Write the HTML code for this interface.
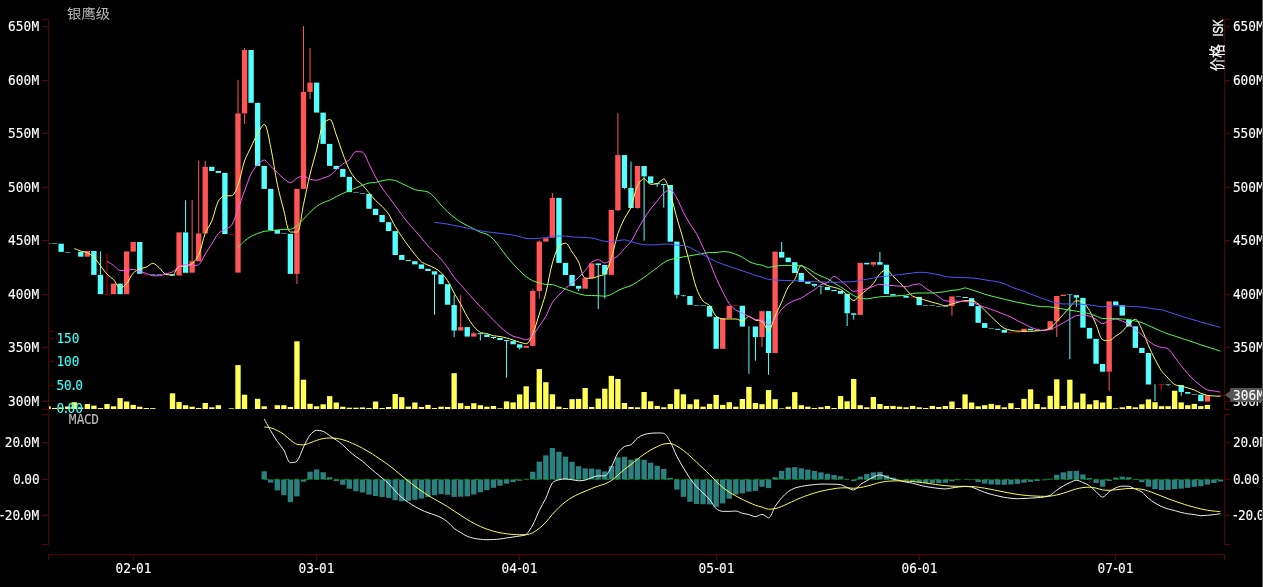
<!DOCTYPE html>
<html lang="zh-CN">
<head>
<meta charset="utf-8">
<title>银鹰级 价格 ISK</title>
<style>
html,body{margin:0;padding:0;background:#000;overflow:hidden}
body{width:1263px;height:587px}
svg{display:block;position:absolute;left:0;top:0}
text{white-space:pre}
</style>
</head>
<body>
<svg width="1263" height="587" viewBox="0 0 1263 587">
<g shape-rendering="crispEdges">
<line x1="48.5" y1="19" x2="48.5" y2="410" stroke="#560000" stroke-width="1"/>
<line x1="49" y1="19.5" x2="42" y2="19.5" stroke="#560000" stroke-width="1"/>
<line x1="49" y1="26.5" x2="42" y2="26.5" stroke="#560000" stroke-width="1"/>
<line x1="49" y1="80.5" x2="42" y2="80.5" stroke="#560000" stroke-width="1"/>
<line x1="49" y1="133.5" x2="42" y2="133.5" stroke="#560000" stroke-width="1"/>
<line x1="49" y1="187.5" x2="42" y2="187.5" stroke="#560000" stroke-width="1"/>
<line x1="49" y1="240.5" x2="42" y2="240.5" stroke="#560000" stroke-width="1"/>
<line x1="49" y1="294.5" x2="42" y2="294.5" stroke="#560000" stroke-width="1"/>
<line x1="49" y1="347.5" x2="42" y2="347.5" stroke="#560000" stroke-width="1"/>
<line x1="49" y1="401.5" x2="42" y2="401.5" stroke="#560000" stroke-width="1"/>
<line x1="49" y1="409.5" x2="42" y2="409.5" stroke="#560000" stroke-width="1"/>
<line x1="48.5" y1="414" x2="48.5" y2="545" stroke="#560000" stroke-width="1"/>
<line x1="49" y1="414.5" x2="42" y2="414.5" stroke="#560000" stroke-width="1"/>
<line x1="49" y1="442.5" x2="42" y2="442.5" stroke="#560000" stroke-width="1"/>
<line x1="49" y1="479.5" x2="42" y2="479.5" stroke="#560000" stroke-width="1"/>
<line x1="49" y1="515.5" x2="42" y2="515.5" stroke="#560000" stroke-width="1"/>
<line x1="49" y1="544.5" x2="42" y2="544.5" stroke="#560000" stroke-width="1"/>
<line x1="1224.5" y1="19" x2="1224.5" y2="410" stroke="#560000" stroke-width="1"/>
<line x1="1224" y1="19.5" x2="1230" y2="19.5" stroke="#560000" stroke-width="1"/>
<line x1="1224" y1="26.5" x2="1230" y2="26.5" stroke="#560000" stroke-width="1"/>
<line x1="1224" y1="80.5" x2="1230" y2="80.5" stroke="#560000" stroke-width="1"/>
<line x1="1224" y1="133.5" x2="1230" y2="133.5" stroke="#560000" stroke-width="1"/>
<line x1="1224" y1="187.5" x2="1230" y2="187.5" stroke="#560000" stroke-width="1"/>
<line x1="1224" y1="240.5" x2="1230" y2="240.5" stroke="#560000" stroke-width="1"/>
<line x1="1224" y1="294.5" x2="1230" y2="294.5" stroke="#560000" stroke-width="1"/>
<line x1="1224" y1="347.5" x2="1230" y2="347.5" stroke="#560000" stroke-width="1"/>
<line x1="1224" y1="401.5" x2="1230" y2="401.5" stroke="#560000" stroke-width="1"/>
<line x1="1224" y1="409.5" x2="1230" y2="409.5" stroke="#560000" stroke-width="1"/>
<line x1="1224.5" y1="414" x2="1224.5" y2="545" stroke="#560000" stroke-width="1"/>
<line x1="1224" y1="414.5" x2="1230" y2="414.5" stroke="#560000" stroke-width="1"/>
<line x1="1224" y1="442.5" x2="1230" y2="442.5" stroke="#560000" stroke-width="1"/>
<line x1="1224" y1="479.5" x2="1230" y2="479.5" stroke="#560000" stroke-width="1"/>
<line x1="1224" y1="515.5" x2="1230" y2="515.5" stroke="#560000" stroke-width="1"/>
<line x1="1224" y1="544.5" x2="1230" y2="544.5" stroke="#560000" stroke-width="1"/>
<line x1="48" y1="331.5" x2="54" y2="331.5" stroke="#560000" stroke-width="1"/>
<line x1="48" y1="338.5" x2="54" y2="338.5" stroke="#560000" stroke-width="1"/>
<line x1="48" y1="361.5" x2="54" y2="361.5" stroke="#560000" stroke-width="1"/>
<line x1="48" y1="385.5" x2="54" y2="385.5" stroke="#560000" stroke-width="1"/>
<line x1="48" y1="409.5" x2="54" y2="409.5" stroke="#560000" stroke-width="1"/>
<line x1="48" y1="554.5" x2="1225" y2="554.5" stroke="#560000" stroke-width="1"/>
<line x1="48.5" y1="554" x2="48.5" y2="560" stroke="#560000" stroke-width="1"/>
<line x1="133.5" y1="554" x2="133.5" y2="560" stroke="#560000" stroke-width="1"/>
<line x1="316.5" y1="554" x2="316.5" y2="560" stroke="#560000" stroke-width="1"/>
<line x1="519.5" y1="554" x2="519.5" y2="560" stroke="#560000" stroke-width="1"/>
<line x1="716.5" y1="554" x2="716.5" y2="560" stroke="#560000" stroke-width="1"/>
<line x1="919.5" y1="554" x2="919.5" y2="560" stroke="#560000" stroke-width="1"/>
<line x1="1115.5" y1="554" x2="1115.5" y2="560" stroke="#560000" stroke-width="1"/>
<line x1="1224.5" y1="554" x2="1224.5" y2="560" stroke="#560000" stroke-width="1"/>
</g>
<g fill="#ffff55">
<rect x="49" y="406.3" width="1.72" height="2.7"/>
<rect x="51.92" y="408" width="5.35" height="1"/>
<rect x="58.48" y="407.6" width="5.35" height="1.4"/>
<rect x="65.02" y="406.5" width="5.35" height="2.5"/>
<rect x="71.58" y="402.2" width="5.35" height="6.8"/>
<rect x="78.12" y="407.5" width="5.35" height="1.5"/>
<rect x="84.67" y="404" width="5.35" height="5"/>
<rect x="91.23" y="405.6" width="5.35" height="3.4"/>
<rect x="97.77" y="408" width="5.35" height="1"/>
<rect x="104.33" y="404" width="5.35" height="5"/>
<rect x="110.88" y="406.3" width="5.35" height="2.7"/>
<rect x="117.42" y="398.1" width="5.35" height="10.9"/>
<rect x="123.97" y="401.5" width="5.35" height="7.5"/>
<rect x="130.52" y="404.9" width="5.35" height="4.1"/>
<rect x="137.07" y="406.7" width="5.35" height="2.3"/>
<rect x="143.62" y="408" width="5.35" height="1"/>
<rect x="150.17" y="408.1" width="5.35" height="0.9"/>
<rect x="169.82" y="393.3" width="5.35" height="15.7"/>
<rect x="176.38" y="401.9" width="5.35" height="7.1"/>
<rect x="182.92" y="405.2" width="5.35" height="3.8"/>
<rect x="189.47" y="406.7" width="5.35" height="2.3"/>
<rect x="196.02" y="408" width="5.35" height="1"/>
<rect x="202.57" y="403" width="5.35" height="6"/>
<rect x="209.12" y="407.3" width="5.35" height="1.7"/>
<rect x="215.67" y="405.2" width="5.35" height="3.8"/>
<rect x="228.77" y="408.3" width="5.35" height="0.7"/>
<rect x="235.32" y="365.1" width="5.35" height="43.9"/>
<rect x="241.88" y="394.7" width="5.35" height="14.3"/>
<rect x="254.97" y="398.8" width="5.35" height="10.2"/>
<rect x="261.52" y="406.3" width="5.35" height="2.7"/>
<rect x="274.62" y="405.2" width="5.35" height="3.8"/>
<rect x="281.17" y="405.2" width="5.35" height="3.8"/>
<rect x="287.72" y="407" width="5.35" height="2"/>
<rect x="294.27" y="341.3" width="5.35" height="67.7"/>
<rect x="300.82" y="379.7" width="5.35" height="29.3"/>
<rect x="307.38" y="403.8" width="5.35" height="5.2"/>
<rect x="313.93" y="406.3" width="5.35" height="2.7"/>
<rect x="320.47" y="404.3" width="5.35" height="4.7"/>
<rect x="327.02" y="396.1" width="5.35" height="12.9"/>
<rect x="333.57" y="402.5" width="5.35" height="6.5"/>
<rect x="340.12" y="406.7" width="5.35" height="2.3"/>
<rect x="346.68" y="407.7" width="5.35" height="1.3"/>
<rect x="353.22" y="407.7" width="5.35" height="1.3"/>
<rect x="359.77" y="407.4" width="5.35" height="1.6"/>
<rect x="366.32" y="408" width="5.35" height="1"/>
<rect x="372.88" y="401.5" width="5.35" height="7.5"/>
<rect x="379.43" y="408" width="5.35" height="1"/>
<rect x="385.97" y="407" width="5.35" height="2"/>
<rect x="392.52" y="394" width="5.35" height="15"/>
<rect x="399.07" y="397.2" width="5.35" height="11.8"/>
<rect x="405.62" y="406.6" width="5.35" height="2.4"/>
<rect x="412.18" y="402.5" width="5.35" height="6.5"/>
<rect x="418.72" y="407" width="5.35" height="2"/>
<rect x="425.27" y="404.9" width="5.35" height="4.1"/>
<rect x="431.82" y="408" width="5.35" height="1"/>
<rect x="438.38" y="406.7" width="5.35" height="2.3"/>
<rect x="444.93" y="407" width="5.35" height="2"/>
<rect x="451.47" y="373.2" width="5.35" height="35.8"/>
<rect x="458.02" y="403.2" width="5.35" height="5.8"/>
<rect x="464.57" y="405.9" width="5.35" height="3.1"/>
<rect x="471.12" y="403.2" width="5.35" height="5.8"/>
<rect x="477.68" y="405.2" width="5.35" height="3.8"/>
<rect x="484.22" y="406.7" width="5.35" height="2.3"/>
<rect x="490.77" y="406" width="5.35" height="3"/>
<rect x="497.32" y="408.3" width="5.35" height="0.7"/>
<rect x="503.88" y="401.4" width="5.35" height="7.6"/>
<rect x="510.43" y="402.4" width="5.35" height="6.6"/>
<rect x="516.98" y="394.4" width="5.35" height="14.6"/>
<rect x="523.52" y="386.3" width="5.35" height="22.7"/>
<rect x="530.08" y="402.2" width="5.35" height="6.8"/>
<rect x="536.62" y="369.1" width="5.35" height="39.9"/>
<rect x="543.18" y="382.2" width="5.35" height="26.8"/>
<rect x="549.73" y="394.3" width="5.35" height="14.7"/>
<rect x="556.27" y="406.7" width="5.35" height="2.3"/>
<rect x="562.82" y="408" width="5.35" height="1"/>
<rect x="569.38" y="399.2" width="5.35" height="9.8"/>
<rect x="575.92" y="398.9" width="5.35" height="10.1"/>
<rect x="582.48" y="388" width="5.35" height="21"/>
<rect x="589.02" y="407" width="5.35" height="2"/>
<rect x="595.57" y="398.6" width="5.35" height="10.4"/>
<rect x="602.12" y="388.7" width="5.35" height="20.3"/>
<rect x="608.67" y="375.9" width="5.35" height="33.1"/>
<rect x="615.23" y="379" width="5.35" height="30"/>
<rect x="621.77" y="403" width="5.35" height="6"/>
<rect x="628.32" y="407" width="5.35" height="2"/>
<rect x="634.88" y="407.3" width="5.35" height="1.7"/>
<rect x="641.42" y="392" width="5.35" height="17"/>
<rect x="647.98" y="401.3" width="5.35" height="7.7"/>
<rect x="654.52" y="405.9" width="5.35" height="3.1"/>
<rect x="661.07" y="407.3" width="5.35" height="1.7"/>
<rect x="667.62" y="404" width="5.35" height="5"/>
<rect x="674.17" y="389.3" width="5.35" height="19.7"/>
<rect x="680.73" y="394.3" width="5.35" height="14.7"/>
<rect x="687.27" y="404.2" width="5.35" height="4.8"/>
<rect x="693.82" y="399.4" width="5.35" height="9.6"/>
<rect x="700.38" y="406.7" width="5.35" height="2.3"/>
<rect x="706.92" y="403.9" width="5.35" height="5.1"/>
<rect x="713.48" y="395" width="5.35" height="14"/>
<rect x="720.02" y="404.9" width="5.35" height="4.1"/>
<rect x="726.57" y="402.2" width="5.35" height="6.8"/>
<rect x="733.12" y="406.7" width="5.35" height="2.3"/>
<rect x="739.67" y="399" width="5.35" height="10"/>
<rect x="746.23" y="386.9" width="5.35" height="22.1"/>
<rect x="752.77" y="403" width="5.35" height="6"/>
<rect x="759.32" y="404.2" width="5.35" height="4.8"/>
<rect x="765.88" y="390.1" width="5.35" height="18.9"/>
<rect x="772.42" y="399.2" width="5.35" height="9.8"/>
<rect x="778.98" y="408.4" width="5.35" height="0.6"/>
<rect x="785.52" y="406.7" width="5.35" height="2.3"/>
<rect x="792.07" y="392.1" width="5.35" height="16.9"/>
<rect x="798.62" y="405.2" width="5.35" height="3.8"/>
<rect x="805.17" y="406.7" width="5.35" height="2.3"/>
<rect x="811.73" y="408" width="5.35" height="1"/>
<rect x="818.27" y="407.2" width="5.35" height="1.8"/>
<rect x="824.82" y="406" width="5.35" height="3"/>
<rect x="831.38" y="408" width="5.35" height="1"/>
<rect x="837.92" y="396.1" width="5.35" height="12.9"/>
<rect x="844.48" y="401.3" width="5.35" height="7.7"/>
<rect x="851.02" y="379" width="5.35" height="30"/>
<rect x="857.57" y="405.2" width="5.35" height="3.8"/>
<rect x="864.12" y="407.3" width="5.35" height="1.7"/>
<rect x="870.67" y="397" width="5.35" height="12"/>
<rect x="877.23" y="404" width="5.35" height="5"/>
<rect x="883.77" y="406" width="5.35" height="3"/>
<rect x="890.32" y="405.9" width="5.35" height="3.1"/>
<rect x="896.88" y="406.7" width="5.35" height="2.3"/>
<rect x="903.42" y="407.3" width="5.35" height="1.7"/>
<rect x="909.98" y="405.9" width="5.35" height="3.1"/>
<rect x="916.52" y="407.3" width="5.35" height="1.7"/>
<rect x="923.07" y="408" width="5.35" height="1"/>
<rect x="929.62" y="405.9" width="5.35" height="3.1"/>
<rect x="936.17" y="407" width="5.35" height="2"/>
<rect x="942.73" y="406" width="5.35" height="3"/>
<rect x="949.27" y="401.5" width="5.35" height="7.5"/>
<rect x="955.82" y="408" width="5.35" height="1"/>
<rect x="962.38" y="394.4" width="5.35" height="14.6"/>
<rect x="968.92" y="402.5" width="5.35" height="6.5"/>
<rect x="975.48" y="406.3" width="5.35" height="2.7"/>
<rect x="982.02" y="405.2" width="5.35" height="3.8"/>
<rect x="988.57" y="403.9" width="5.35" height="5.1"/>
<rect x="995.12" y="405.2" width="5.35" height="3.8"/>
<rect x="1001.67" y="407.3" width="5.35" height="1.7"/>
<rect x="1008.23" y="403.2" width="5.35" height="5.8"/>
<rect x="1014.77" y="408" width="5.35" height="1"/>
<rect x="1021.32" y="398.8" width="5.35" height="10.2"/>
<rect x="1027.88" y="389.3" width="5.35" height="19.7"/>
<rect x="1034.42" y="404" width="5.35" height="5"/>
<rect x="1040.98" y="407.3" width="5.35" height="1.7"/>
<rect x="1047.53" y="395.8" width="5.35" height="13.2"/>
<rect x="1054.08" y="379.3" width="5.35" height="29.7"/>
<rect x="1060.62" y="405.9" width="5.35" height="3.1"/>
<rect x="1067.17" y="379.7" width="5.35" height="29.3"/>
<rect x="1073.72" y="402.5" width="5.35" height="6.5"/>
<rect x="1080.27" y="393.6" width="5.35" height="15.4"/>
<rect x="1086.83" y="404.3" width="5.35" height="4.7"/>
<rect x="1093.38" y="400.2" width="5.35" height="8.8"/>
<rect x="1099.92" y="402.5" width="5.35" height="6.5"/>
<rect x="1106.47" y="396" width="5.35" height="13"/>
<rect x="1113.02" y="408.3" width="5.35" height="0.7"/>
<rect x="1119.58" y="407.3" width="5.35" height="1.7"/>
<rect x="1126.12" y="406" width="5.35" height="3"/>
<rect x="1132.67" y="407.3" width="5.35" height="1.7"/>
<rect x="1139.22" y="404.3" width="5.35" height="4.7"/>
<rect x="1145.77" y="399.4" width="5.35" height="9.6"/>
<rect x="1152.33" y="402.2" width="5.35" height="6.8"/>
<rect x="1158.88" y="406.2" width="5.35" height="2.8"/>
<rect x="1165.42" y="406.2" width="5.35" height="2.8"/>
<rect x="1171.97" y="390.7" width="5.35" height="18.3"/>
<rect x="1178.52" y="402.4" width="5.35" height="6.6"/>
<rect x="1185.08" y="405.2" width="5.35" height="3.8"/>
<rect x="1191.62" y="403.9" width="5.35" height="5.1"/>
<rect x="1198.17" y="406.1" width="5.35" height="2.9"/>
<rect x="1204.72" y="404.9" width="5.35" height="4.1"/>
</g>
<g id="candles">
<rect x="49" y="243" width="1.72" height="1" fill="#2a8a8a"/>
<rect x="51.92" y="243" width="5.35" height="1" fill="#2a8a8a"/>
<rect x="58.48" y="243.7" width="5.35" height="8.2" fill="#55ffff"/>
<rect x="65.02" y="252" width="5.35" height="1" fill="#2a8a8a"/>
<rect x="78.12" y="251.8" width="5.35" height="4.9" fill="#55ffff"/>
<rect x="84.67" y="251" width="5.35" height="5.7" fill="#ff5555"/>
<rect x="91.23" y="251" width="5.35" height="23.9" fill="#55ffff"/>
<rect x="97.77" y="274.9" width="5.35" height="19.3" fill="#55ffff"/>
<rect x="99.95" y="251.4" width="1" height="23.5" fill="#55ffff"/>
<rect x="104.33" y="294" width="5.35" height="1" fill="#8a0000"/>
<rect x="106.5" y="253.5" width="1" height="40.7" fill="#bb0000"/>
<rect x="110.88" y="283.6" width="5.35" height="10.6" fill="#ff5555"/>
<rect x="117.42" y="283.6" width="5.35" height="10.6" fill="#55ffff"/>
<rect x="123.97" y="251.4" width="5.35" height="42.8" fill="#ff5555"/>
<rect x="130.52" y="242" width="5.35" height="9.6" fill="#ff5555"/>
<rect x="137.07" y="242" width="5.35" height="31.8" fill="#55ffff"/>
<rect x="143.62" y="274" width="5.35" height="1" fill="#8a0000"/>
<rect x="150.17" y="274" width="5.35" height="1" fill="#2a8a8a"/>
<rect x="156.72" y="274" width="5.35" height="1" fill="#2a8a8a"/>
<rect x="163.27" y="274" width="5.35" height="1" fill="#2a8a8a"/>
<rect x="169.82" y="274.3" width="5.35" height="1.4" fill="#55ffff"/>
<rect x="176.38" y="232.4" width="5.35" height="43.1" fill="#ff5555"/>
<rect x="182.92" y="232.4" width="5.35" height="40.4" fill="#55ffff"/>
<rect x="185.1" y="200.2" width="1" height="32.2" fill="#55ffff"/>
<rect x="189.47" y="261.2" width="5.35" height="11.5" fill="#ff5555"/>
<rect x="191.65" y="199.9" width="1" height="61.3" fill="#ff5555"/>
<rect x="196.02" y="233.4" width="5.35" height="27.8" fill="#ff5555"/>
<rect x="198.2" y="160.75" width="1" height="72.65" fill="#ff5555"/>
<rect x="202.57" y="166.8" width="5.35" height="66.6" fill="#ff5555"/>
<rect x="204.75" y="160.75" width="1" height="6.05" fill="#ff5555"/>
<rect x="209.12" y="166.8" width="5.35" height="4.2" fill="#55ffff"/>
<rect x="215.67" y="171" width="5.35" height="1.9" fill="#55ffff"/>
<rect x="222.22" y="172.9" width="5.35" height="61.15" fill="#55ffff"/>
<rect x="228.77" y="234" width="5.35" height="1" fill="#8a0000"/>
<rect x="235.32" y="113.4" width="5.35" height="159.25" fill="#ff5555"/>
<rect x="237.5" y="79.8" width="1" height="33.6" fill="#ff5555"/>
<rect x="241.88" y="50" width="5.35" height="63.4" fill="#ff5555"/>
<rect x="244.05" y="47.9" width="1" height="2.1" fill="#ff5555"/>
<rect x="244.05" y="113.4" width="1" height="10.5" fill="#ff5555"/>
<rect x="248.42" y="50" width="5.35" height="52.8" fill="#55ffff"/>
<rect x="254.97" y="102.8" width="5.35" height="63.1" fill="#55ffff"/>
<rect x="261.52" y="165.9" width="5.35" height="23" fill="#55ffff"/>
<rect x="268.07" y="188.9" width="5.35" height="41.1" fill="#55ffff"/>
<rect x="274.62" y="230" width="5.35" height="3.7" fill="#55ffff"/>
<rect x="281.17" y="233" width="5.35" height="1" fill="#2a8a8a"/>
<rect x="287.72" y="233.8" width="5.35" height="40.1" fill="#55ffff"/>
<rect x="294.27" y="188.9" width="5.35" height="85" fill="#ff5555"/>
<rect x="296.45" y="273.9" width="1" height="10" fill="#ff5555"/>
<rect x="300.82" y="91.9" width="5.35" height="97" fill="#ff5555"/>
<rect x="303" y="26.1" width="1" height="65.8" fill="#ff5555"/>
<rect x="307.38" y="82.6" width="5.35" height="9.3" fill="#ff5555"/>
<rect x="309.55" y="47.9" width="1" height="34.7" fill="#ff5555"/>
<rect x="309.55" y="91.9" width="1" height="7" fill="#ff5555"/>
<rect x="313.93" y="82.6" width="5.35" height="30" fill="#55ffff"/>
<rect x="320.47" y="112.6" width="5.35" height="31.3" fill="#55ffff"/>
<rect x="327.02" y="143.9" width="5.35" height="22" fill="#55ffff"/>
<rect x="333.57" y="165.9" width="5.35" height="3.2" fill="#55ffff"/>
<rect x="340.12" y="169" width="5.35" height="7.9" fill="#55ffff"/>
<rect x="346.68" y="176.9" width="5.35" height="15.3" fill="#55ffff"/>
<rect x="353.22" y="192" width="5.35" height="1" fill="#2a8a8a"/>
<rect x="359.77" y="193" width="5.35" height="1" fill="#2a8a8a"/>
<rect x="366.32" y="193.9" width="5.35" height="14.9" fill="#55ffff"/>
<rect x="372.88" y="208.8" width="5.35" height="6.2" fill="#55ffff"/>
<rect x="379.43" y="215" width="5.35" height="7.2" fill="#55ffff"/>
<rect x="385.97" y="222.2" width="5.35" height="8.9" fill="#55ffff"/>
<rect x="392.52" y="231.1" width="5.35" height="23.9" fill="#55ffff"/>
<rect x="399.07" y="255" width="5.35" height="4.9" fill="#55ffff"/>
<rect x="405.62" y="260.1" width="5.35" height="1" fill="#55ffff"/>
<rect x="412.18" y="261.2" width="5.35" height="3.2" fill="#55ffff"/>
<rect x="418.72" y="264.4" width="5.35" height="4.4" fill="#55ffff"/>
<rect x="425.27" y="268.8" width="5.35" height="2.2" fill="#55ffff"/>
<rect x="431.82" y="271.3" width="5.35" height="3.3" fill="#55ffff"/>
<rect x="434" y="274.6" width="1" height="40.1" fill="#55ffff"/>
<rect x="438.38" y="274.6" width="5.35" height="9.6" fill="#55ffff"/>
<rect x="444.93" y="284.2" width="5.35" height="20.5" fill="#55ffff"/>
<rect x="451.47" y="305.1" width="5.35" height="25.5" fill="#55ffff"/>
<rect x="453.65" y="295.1" width="1" height="10" fill="#55ffff"/>
<rect x="453.65" y="330.6" width="1" height="6.4" fill="#55ffff"/>
<rect x="458.02" y="327.1" width="5.35" height="3.5" fill="#ff5555"/>
<rect x="460.2" y="295.1" width="1" height="32" fill="#ff5555"/>
<rect x="464.57" y="327.1" width="5.35" height="9.5" fill="#55ffff"/>
<rect x="471.12" y="333.2" width="5.35" height="3.4" fill="#ff5555"/>
<rect x="473.3" y="332.2" width="1" height="1" fill="#ff5555"/>
<rect x="477.68" y="333.2" width="5.35" height="1" fill="#55ffff"/>
<rect x="479.85" y="334.2" width="1" height="6.3" fill="#55ffff"/>
<rect x="484.22" y="334.5" width="5.35" height="2.5" fill="#55ffff"/>
<rect x="490.77" y="337" width="5.35" height="1" fill="#55ffff"/>
<rect x="492.95" y="337.9" width="1" height="1.1" fill="#55ffff"/>
<rect x="497.32" y="337.9" width="5.35" height="2.2" fill="#55ffff"/>
<rect x="503.88" y="340.1" width="5.35" height="1" fill="#55ffff"/>
<rect x="506.05" y="340.9" width="1" height="36.8" fill="#55ffff"/>
<rect x="510.43" y="341.1" width="5.35" height="3.2" fill="#55ffff"/>
<rect x="516.98" y="344.3" width="5.35" height="3.5" fill="#55ffff"/>
<rect x="519.15" y="347.8" width="1" height="1.7" fill="#55ffff"/>
<rect x="523.52" y="345.8" width="5.35" height="2" fill="#ff5555"/>
<rect x="530.08" y="291" width="5.35" height="54.9" fill="#ff5555"/>
<rect x="532.25" y="289.3" width="1" height="1.7" fill="#ff5555"/>
<rect x="536.62" y="241.6" width="5.35" height="49.4" fill="#ff5555"/>
<rect x="538.8" y="240.4" width="1" height="1.2" fill="#ff5555"/>
<rect x="538.8" y="291" width="1" height="7.5" fill="#ff5555"/>
<rect x="543.18" y="238.2" width="5.35" height="3.4" fill="#ff5555"/>
<rect x="549.73" y="197.9" width="5.35" height="39.9" fill="#ff5555"/>
<rect x="551.9" y="193" width="1" height="4.9" fill="#ff5555"/>
<rect x="556.27" y="197.9" width="5.35" height="65" fill="#55ffff"/>
<rect x="562.82" y="262.9" width="5.35" height="12.1" fill="#55ffff"/>
<rect x="569.38" y="275" width="5.35" height="10.9" fill="#55ffff"/>
<rect x="575.92" y="285.9" width="5.35" height="2.8" fill="#55ffff"/>
<rect x="578.1" y="288.7" width="1" height="2.3" fill="#55ffff"/>
<rect x="582.48" y="278.1" width="5.35" height="10.6" fill="#ff5555"/>
<rect x="589.02" y="263.4" width="5.35" height="14.7" fill="#ff5555"/>
<rect x="595.57" y="263.4" width="5.35" height="1.6" fill="#55ffff"/>
<rect x="597.75" y="265" width="1" height="43.9" fill="#55ffff"/>
<rect x="602.12" y="265" width="5.35" height="9.6" fill="#55ffff"/>
<rect x="604.3" y="274.6" width="1" height="24" fill="#55ffff"/>
<rect x="608.67" y="210" width="5.35" height="64.9" fill="#ff5555"/>
<rect x="615.23" y="155.1" width="5.35" height="55.2" fill="#ff5555"/>
<rect x="617.4" y="113.3" width="1" height="41.8" fill="#ff5555"/>
<rect x="617.4" y="210.3" width="1" height="1" fill="#ff5555"/>
<rect x="621.77" y="155.1" width="5.35" height="32.8" fill="#55ffff"/>
<rect x="623.95" y="187.9" width="1" height="1.3" fill="#55ffff"/>
<rect x="628.32" y="187.9" width="5.35" height="20.1" fill="#55ffff"/>
<rect x="630.5" y="161.6" width="1" height="26.3" fill="#55ffff"/>
<rect x="634.88" y="166" width="5.35" height="42" fill="#ff5555"/>
<rect x="637.05" y="208" width="1" height="0.7" fill="#ff5555"/>
<rect x="641.42" y="166" width="5.35" height="10.4" fill="#55ffff"/>
<rect x="643.6" y="176.4" width="1" height="64.3" fill="#55ffff"/>
<rect x="647.98" y="176.4" width="5.35" height="6.8" fill="#55ffff"/>
<rect x="654.52" y="183.2" width="5.35" height="1" fill="#55ffff"/>
<rect x="656.7" y="184" width="1" height="2.9" fill="#55ffff"/>
<rect x="661.07" y="184" width="5.35" height="1" fill="#55ffff"/>
<rect x="663.25" y="185" width="1" height="22.7" fill="#55ffff"/>
<rect x="667.62" y="185" width="5.35" height="56.7" fill="#55ffff"/>
<rect x="674.17" y="241.6" width="5.35" height="53.2" fill="#55ffff"/>
<rect x="676.35" y="294.8" width="1" height="3.7" fill="#55ffff"/>
<rect x="680.73" y="295" width="5.35" height="1" fill="#2a8a8a"/>
<rect x="682.9" y="295.1" width="1" height="1.4" fill="#55ffff"/>
<rect x="687.27" y="296" width="5.35" height="8.9" fill="#55ffff"/>
<rect x="693.82" y="305" width="5.35" height="1" fill="#2a8a8a"/>
<rect x="700.38" y="305" width="5.35" height="1" fill="#2a8a8a"/>
<rect x="706.92" y="305.9" width="5.35" height="10.7" fill="#55ffff"/>
<rect x="713.48" y="316.9" width="5.35" height="31.9" fill="#55ffff"/>
<rect x="720.02" y="318.3" width="5.35" height="30.5" fill="#ff5555"/>
<rect x="726.57" y="305.75" width="5.35" height="12.35" fill="#ff5555"/>
<rect x="733.12" y="305" width="5.35" height="1" fill="#8a0000"/>
<rect x="739.67" y="305.75" width="5.35" height="20.85" fill="#55ffff"/>
<rect x="748.4" y="326.2" width="1" height="47.5" fill="#55ffff"/>
<rect x="752.77" y="326.5" width="5.35" height="10.6" fill="#55ffff"/>
<rect x="754.95" y="337.1" width="1" height="23.6" fill="#55ffff"/>
<rect x="759.32" y="311.1" width="5.35" height="26" fill="#ff5555"/>
<rect x="761.5" y="337.1" width="1" height="9.9" fill="#ff5555"/>
<rect x="765.88" y="311.1" width="5.35" height="41.9" fill="#55ffff"/>
<rect x="768.05" y="353" width="1" height="21.8" fill="#55ffff"/>
<rect x="772.42" y="251.6" width="5.35" height="101.4" fill="#ff5555"/>
<rect x="778.98" y="251.9" width="5.35" height="5.7" fill="#55ffff"/>
<rect x="781.15" y="242" width="1" height="9.9" fill="#55ffff"/>
<rect x="785.52" y="257.6" width="5.35" height="4.6" fill="#55ffff"/>
<rect x="792.07" y="262.2" width="5.35" height="10.8" fill="#55ffff"/>
<rect x="798.62" y="273" width="5.35" height="9" fill="#55ffff"/>
<rect x="805.17" y="282" width="5.35" height="1.8" fill="#55ffff"/>
<rect x="811.73" y="283.9" width="5.35" height="1.8" fill="#55ffff"/>
<rect x="813.9" y="285.7" width="1" height="1.3" fill="#55ffff"/>
<rect x="818.27" y="286" width="5.35" height="1" fill="#2a8a8a"/>
<rect x="820.45" y="286.4" width="1" height="7.8" fill="#55ffff"/>
<rect x="824.82" y="287" width="5.35" height="3" fill="#55ffff"/>
<rect x="831.38" y="289.9" width="5.35" height="1.2" fill="#55ffff"/>
<rect x="837.92" y="290.9" width="5.35" height="2.9" fill="#55ffff"/>
<rect x="844.48" y="293.8" width="5.35" height="19.5" fill="#55ffff"/>
<rect x="846.65" y="313.3" width="1" height="12.75" fill="#55ffff"/>
<rect x="851.02" y="313.3" width="5.35" height="1.5" fill="#55ffff"/>
<rect x="853.2" y="314.8" width="1" height="4.7" fill="#55ffff"/>
<rect x="857.57" y="262.8" width="5.35" height="52.1" fill="#ff5555"/>
<rect x="864.12" y="262.8" width="5.35" height="1.6" fill="#55ffff"/>
<rect x="870.67" y="262.1" width="5.35" height="2.6" fill="#ff5555"/>
<rect x="872.85" y="264.7" width="1" height="1.9" fill="#ff5555"/>
<rect x="877.23" y="262.1" width="5.35" height="2.6" fill="#55ffff"/>
<rect x="879.4" y="251.9" width="1" height="10.2" fill="#55ffff"/>
<rect x="883.77" y="264.7" width="5.35" height="29.4" fill="#55ffff"/>
<rect x="890.32" y="294.1" width="5.35" height="1.5" fill="#55ffff"/>
<rect x="896.88" y="295" width="5.35" height="1" fill="#2a8a8a"/>
<rect x="903.42" y="296" width="5.35" height="1.7" fill="#55ffff"/>
<rect x="909.98" y="297" width="5.35" height="1" fill="#8a0000"/>
<rect x="916.52" y="296.9" width="5.35" height="8.3" fill="#55ffff"/>
<rect x="923.07" y="305" width="5.35" height="1" fill="#2a8a8a"/>
<rect x="929.62" y="305" width="5.35" height="1" fill="#2a8a8a"/>
<rect x="936.17" y="306" width="5.35" height="1" fill="#2a8a8a"/>
<rect x="942.73" y="306" width="5.35" height="1" fill="#2a8a8a"/>
<rect x="949.27" y="296.4" width="5.35" height="9.6" fill="#ff5555"/>
<rect x="951.45" y="306" width="1" height="9.6" fill="#ff5555"/>
<rect x="955.82" y="296" width="5.35" height="1" fill="#2a8a8a"/>
<rect x="962.38" y="297" width="5.35" height="1" fill="#55ffff"/>
<rect x="968.92" y="298.2" width="5.35" height="7.9" fill="#55ffff"/>
<rect x="975.48" y="306.1" width="5.35" height="16.7" fill="#55ffff"/>
<rect x="982.02" y="323.1" width="5.35" height="4.8" fill="#55ffff"/>
<rect x="988.57" y="328" width="5.35" height="1" fill="#2a8a8a"/>
<rect x="995.12" y="328.8" width="5.35" height="1" fill="#55ffff"/>
<rect x="1001.67" y="329.8" width="5.35" height="2.9" fill="#55ffff"/>
<rect x="1008.23" y="332" width="5.35" height="1" fill="#8a0000"/>
<rect x="1014.77" y="332" width="5.35" height="1" fill="#8a0000"/>
<rect x="1021.32" y="328.8" width="5.35" height="3.3" fill="#ff5555"/>
<rect x="1027.88" y="328.8" width="5.35" height="1.4" fill="#55ffff"/>
<rect x="1034.42" y="330" width="5.35" height="1" fill="#2a8a8a"/>
<rect x="1040.98" y="330" width="5.35" height="1" fill="#2a8a8a"/>
<rect x="1047.53" y="321.2" width="5.35" height="8.6" fill="#ff5555"/>
<rect x="1054.08" y="296" width="5.35" height="25.2" fill="#ff5555"/>
<rect x="1056.25" y="321.2" width="1" height="15.7" fill="#ff5555"/>
<rect x="1060.62" y="294.7" width="5.35" height="1.3" fill="#ff5555"/>
<rect x="1067.17" y="294" width="5.35" height="1" fill="#2a8a8a"/>
<rect x="1069.35" y="294.7" width="1" height="64.3" fill="#55ffff"/>
<rect x="1073.72" y="295.1" width="5.35" height="2.5" fill="#55ffff"/>
<rect x="1075.9" y="297.6" width="1" height="9.2" fill="#55ffff"/>
<rect x="1080.27" y="297.9" width="5.35" height="29.8" fill="#55ffff"/>
<rect x="1086.83" y="327.9" width="5.35" height="10.7" fill="#55ffff"/>
<rect x="1093.38" y="338.8" width="5.35" height="24.95" fill="#55ffff"/>
<rect x="1099.92" y="364" width="5.35" height="7.7" fill="#55ffff"/>
<rect x="1106.47" y="301.4" width="5.35" height="70.3" fill="#ff5555"/>
<rect x="1108.65" y="371.7" width="1" height="19" fill="#ff5555"/>
<rect x="1113.02" y="301.4" width="5.35" height="3.7" fill="#55ffff"/>
<rect x="1119.58" y="305.1" width="5.35" height="10.5" fill="#55ffff"/>
<rect x="1126.12" y="319.5" width="5.35" height="7" fill="#55ffff"/>
<rect x="1132.67" y="326.3" width="5.35" height="21.6" fill="#55ffff"/>
<rect x="1139.22" y="347.9" width="5.35" height="5.1" fill="#55ffff"/>
<rect x="1145.77" y="353" width="5.35" height="31.5" fill="#55ffff"/>
<rect x="1154.5" y="384.2" width="1" height="16.8" fill="#55ffff"/>
<rect x="1158.88" y="384" width="5.35" height="1" fill="#bb0000"/>
<rect x="1161.05" y="384.5" width="1" height="6.2" fill="#bb0000"/>
<rect x="1165.42" y="384" width="5.35" height="1" fill="#2a8a8a"/>
<rect x="1167.6" y="384.5" width="1" height="1.5" fill="#55ffff"/>
<rect x="1178.52" y="385.1" width="5.35" height="6.9" fill="#55ffff"/>
<rect x="1180.7" y="392" width="1" height="3.8" fill="#55ffff"/>
<rect x="1185.08" y="392" width="5.35" height="1.7" fill="#55ffff"/>
<rect x="1191.62" y="394" width="5.35" height="1" fill="#2a8a8a"/>
<rect x="1198.17" y="394.6" width="5.35" height="6.7" fill="#55ffff"/>
<rect x="1204.72" y="395.2" width="5.35" height="6.4" fill="#ff5555"/>
<rect x="1217.83" y="395" width="5.35" height="1" fill="#8a0000"/>
</g>
<g id="ma">
<path d="M74.25 248.44C74.25 248.44 78.79 250.46 80.8 251.1C82.72 251.71 85.56 251.78 87.35 252.62C89.49 253.62 92.21 255.55 93.9 257.22C96.14 259.44 98.5 263.07 100.45 265.6C102.43 268.17 104.8 271.85 107 274.2C108.73 276.04 111.83 277.73 113.55 279.58C115.76 281.94 117.85 288.22 120.1 288.22C121.78 288.22 125.1 285.32 126.65 283.52C129.03 280.77 130.78 275.76 133.2 273.08C134.71 271.4 137.66 269.95 139.75 269C141.59 268.16 144.44 267.95 146.3 267.14C148.37 266.23 150.94 263.26 152.85 263.26C154.87 263.26 157.57 266.37 159.4 267.94C161.5 269.74 163.65 273.96 165.95 274.5C167.58 274.88 171 274.88 172.5 274.88C174.93 274.88 176.62 267.15 179.05 266.5C180.55 266.1 183.71 266.5 185.6 266.1C187.64 265.67 190.57 264.71 192.15 263.38C194.5 261.41 197.45 257.96 198.7 255.1C201.38 248.94 202.81 239.66 205.25 233.32C206.74 229.44 210.23 224.89 211.8 221.04C214.16 215.22 215.55 206.49 218.35 201.06C219.48 198.86 222.68 195.63 224.9 195.63C226.61 195.63 230.1 195.81 231.45 195.81C234.03 195.81 236.69 188.62 238 185.13C240.62 178.15 242.12 168.02 244.55 160.93C246.05 156.55 249.11 151.11 251.1 146.91C253.04 142.81 255.39 137.19 257.65 133.28C259.32 130.38 262.96 124.2 264.2 124.2C266.89 124.2 269.2 140.43 270.75 147.52C273.13 158.45 275.02 173.31 277.3 184.26C278.95 192.19 281.71 202.65 283.85 210.46C285.64 216.99 287.35 232.06 290.4 232.06C291.28 232.06 296.21 232.06 296.95 232.06C300.14 232.06 301.62 212.75 303.5 204.44C305.55 195.39 307.88 183.24 310.05 174.22C311.81 166.9 314.7 157.27 316.6 149.98C318.63 142.2 320.12 131.05 323.15 123.98C324.05 121.87 328.43 119.38 329.7 119.38C332.36 119.38 334.46 130.12 336.25 134.82C338.39 140.41 340.69 148.08 342.8 153.68C344.62 158.51 347.01 165.02 349.35 169.6C350.94 172.72 353.63 176.69 355.9 179.34C357.56 181.27 360.66 183.03 362.45 184.86C364.59 187.06 367.01 190.44 369 192.8C370.94 195.11 373.46 198.25 375.55 200.42C377.39 202.34 380.26 204.5 382.1 206.42C384.19 208.61 387 211.6 388.65 214.12C390.93 217.6 393.1 222.81 395.2 226.42C397.03 229.57 399.71 233.62 401.75 236.64C403.64 239.45 406.28 243.12 408.3 245.84C410.21 248.41 412.82 251.8 414.85 254.28C416.75 256.6 419.13 259.96 421.4 261.82C423.06 263.18 425.97 264.09 427.95 265.02C429.9 265.93 432.64 266.89 434.5 267.96C436.57 269.16 439.34 270.94 441.05 272.6C443.27 274.75 445.93 278.05 447.6 280.66C449.86 284.18 452.11 289.35 454.15 293.02C456.04 296.43 458.81 300.83 460.7 304.24C462.74 307.92 465.11 313.02 467.25 316.64C469.04 319.68 471.55 323.75 473.8 326.44C475.48 328.46 478.11 331.11 480.35 332.34C482.04 333.27 484.97 333.11 486.9 333.62C488.9 334.14 491.44 335.34 493.45 335.78C495.37 336.2 498.06 336.15 500 336.48C501.99 336.82 504.6 337.49 506.55 338.02C508.53 338.56 511.14 339.41 513.1 340.04C515.07 340.67 517.66 341.63 519.65 342.2C521.59 342.75 524.77 343.78 526.2 343.78C528.7 343.78 531.33 337.17 532.75 333.96C535.26 328.27 537.39 320.08 539.3 314.1C541.32 307.75 544.2 299.33 545.85 292.88C548.13 283.97 549.91 271.74 552.4 262.9C553.84 257.77 556.16 250.53 558.95 246.32C560.09 244.6 563.94 243.12 565.5 243.12C567.87 243.12 570.17 249.26 572.05 251.98C574.1 254.95 576.99 258.87 578.6 262.08C580.92 266.71 582.3 277.86 585.15 278.12C586.23 278.22 589.78 278.22 591.7 278.22C593.71 278.22 596.3 276.86 598.25 276.22C600.23 275.58 603.66 275.52 604.8 273.96C607.59 270.12 609.77 263.07 611.35 258.22C613.7 250.97 615.51 240.85 617.9 233.62C619.44 228.94 622.27 222.94 624.45 218.52C626.2 214.99 629.56 210.77 631 207.12C633.49 200.83 634.77 191.44 637.55 185.4C638.7 182.9 642.05 178.68 644.1 178.68C645.98 178.68 648.42 184.3 650.65 184.3C652.35 184.3 655.42 184.25 657.2 183.52C659.35 182.64 662.47 178.92 663.75 178.92C666.4 178.92 668.72 189.38 670.3 194.06C672.65 201.03 674.83 210.65 676.85 217.74C678.76 224.47 681.51 233.39 683.4 240.12C685.44 247.35 687.98 257.05 689.95 264.3C691.91 271.52 694.01 281.35 696.5 288.36C697.94 292.39 700.51 297.8 703.05 301.12C704.44 302.94 708.09 303.74 709.6 305.48C712.02 308.27 713.63 313.64 716.15 316.22C717.56 317.67 720.66 318.8 722.7 318.9C724.59 318.99 727.28 318.99 729.25 318.99C731.21 318.99 733.88 318.99 735.8 318.99C737.81 318.99 740.53 320.99 742.35 320.99C744.46 320.99 746.88 316.47 748.9 316.47C750.81 316.47 753.36 319.46 755.45 320.23C757.29 320.91 760.56 320.23 762 321.3C764.49 323.16 766.92 330.8 768.55 330.8C770.85 330.8 773.06 320.27 775.1 315.8C776.99 311.65 779.76 306.23 781.65 302.08C783.69 297.62 785.77 291.3 788.2 287.1C789.7 284.52 793.21 282.04 794.75 279.48C797.14 275.49 798.82 265.28 801.3 265.28C802.75 265.28 805.82 269.85 807.85 271.72C809.75 273.47 812.38 275.73 814.4 277.34C816.31 278.86 818.89 280.88 820.95 282.18C822.82 283.36 825.45 284.76 827.5 285.58C829.38 286.33 832.09 286.83 834.05 287.4C836.02 287.98 838.85 288.4 840.6 289.4C842.78 290.65 845.2 293.25 847.15 294.92C849.13 296.61 851.72 300.6 853.7 300.6C855.65 300.6 858.28 296.78 860.25 295.16C862.21 293.55 864.91 291.51 866.8 289.82C868.84 288 871.63 285.59 873.35 283.48C875.56 280.77 877.53 276.26 879.9 273.76C881.46 272.11 884.66 269.62 886.45 269.62C888.59 269.62 891.01 274.24 893 276.18C894.94 278.08 897.65 280.48 899.55 282.42C901.58 284.49 904.09 287.45 906.1 289.54C908.02 291.54 910.4 294.56 912.65 296.06C914.33 297.18 917.23 297.64 919.2 298.28C921.16 298.91 923.78 299.68 925.75 300.28C927.71 300.88 930.32 301.72 932.3 302.28C934.25 302.83 936.89 303.46 938.85 303.98C940.82 304.5 943.43 305.76 945.4 305.76C947.36 305.76 949.99 304.54 951.95 304C953.92 303.46 956.52 302.67 958.5 302.16C960.45 301.66 963.06 300.66 965.05 300.64C966.99 300.62 969.75 300.62 971.6 300.62C973.68 300.62 976.39 302.65 978.15 303.94C980.32 305.54 982.75 308.34 984.7 310.24C986.68 312.16 989.28 314.76 991.25 316.68C993.21 318.59 995.76 321.19 997.8 323C999.69 324.68 1002.18 327.12 1004.35 328.32C1006.11 329.29 1008.9 329.81 1010.9 330.24C1012.83 330.66 1015.48 331.1 1017.45 331.14C1019.41 331.18 1022.04 331.16 1024 331.18C1025.97 331.2 1028.59 331.3 1030.55 331.3C1032.52 331.3 1035.13 330.95 1037.1 330.8C1039.06 330.65 1041.74 330.72 1043.65 330.32C1045.67 329.9 1048.52 329.21 1050.2 328.08C1052.45 326.57 1054.83 323.53 1056.75 321.52C1058.76 319.43 1061.34 316.55 1063.3 314.42C1065.26 312.29 1067.84 309.41 1069.85 307.32C1071.77 305.33 1074.12 300.84 1076.4 300.84C1078.05 300.84 1081.44 301.01 1082.95 302.14C1085.37 303.96 1087.88 307.89 1089.5 310.66C1091.81 314.59 1094.17 320.29 1096.05 324.47C1098.1 329.05 1099.78 337.94 1102.6 339.87C1103.71 340.63 1107.37 340.63 1109.15 340.63C1111.3 340.63 1113.74 337.47 1115.7 336.11C1117.67 334.74 1120.5 333.12 1122.25 331.51C1124.43 329.51 1126.64 326.08 1128.8 324.06C1130.57 322.41 1133.78 319.3 1135.35 319.3C1137.71 319.3 1140.27 326.35 1141.9 329.62C1144.2 334.21 1146.37 340.79 1148.45 345.5C1150.3 349.67 1152.91 355.17 1155 359.22C1156.84 362.77 1159.29 367.55 1161.55 370.82C1163.22 373.23 1166.07 376.01 1168.1 378.14C1170 380.13 1172.38 383.17 1174.65 384.54C1176.31 385.54 1179.25 385.53 1181.2 386.04C1183.18 386.55 1185.79 387.35 1187.75 387.94C1189.72 388.53 1192.41 389.18 1194.3 389.96C1196.34 390.8 1198.82 392.48 1200.85 393.32C1202.75 394.1 1205.39 394.95 1207.4 395.36C1209.32 395.75 1211.98 395.86 1213.95 396C1215.91 396.14 1220.5 396.3 1220.5 396.3" fill="none" stroke="#ffff55" stroke-width="1"/>
<path d="M107 261.32C107 261.32 111.66 264.03 113.55 265.34C115.59 266.76 117.9 270.42 120.1 270.42C121.83 270.42 124.7 270.42 126.65 270.37C128.63 270.32 131.28 269.34 133.2 269.34C135.21 269.34 137.76 270.99 139.75 271.6C141.69 272.2 144.36 272.75 146.3 273.36C148.29 273.99 150.82 275.74 152.85 275.74C154.75 275.74 157.48 275.74 159.4 275.73C161.41 275.72 163.98 274.36 165.95 273.79C167.91 273.22 170.73 272.88 172.5 271.94C174.66 270.79 176.9 268.01 179.05 266.82C180.83 265.83 183.6 264.68 185.6 264.68C187.53 264.68 190.18 265.66 192.15 265.66C194.11 265.66 197.34 265.66 198.7 264.8C201.27 263.17 203.26 257.29 205.25 254.1C207.19 250.99 209.83 246.86 211.8 243.77C213.76 240.71 215.95 236.19 218.35 233.58C219.88 231.92 222.93 230.72 224.9 229.51C226.86 228.29 230.25 227.31 231.45 225.46C234.18 221.23 236.14 214.13 238 209.23C240.07 203.79 242.52 196.43 244.55 190.99C246.45 185.86 248.7 178.85 251.1 173.99C252.63 170.89 255.32 166.94 257.65 164.46C259.25 162.75 262.37 160.01 264.2 160.01C266.3 160.01 268.78 164.43 270.75 166.33C272.71 168.21 275.32 170.73 277.3 172.6C279.25 174.44 281.73 177.06 283.85 178.69C285.66 180.08 288.47 182.67 290.4 182.67C292.4 182.67 294.84 179.21 296.95 178.13C298.77 177.2 301.59 175.98 303.5 175.98C305.52 175.98 307.99 178.57 310.05 179.24C311.92 179.84 314.68 180.22 316.6 180.22C318.61 180.22 321.19 178.69 323.15 178.02C325.12 177.34 327.98 176.82 329.7 175.72C331.91 174.3 334.25 171.42 336.25 169.63C338.18 167.89 340.73 165.51 342.8 163.95C344.66 162.56 347.67 161.36 349.35 159.79C351.6 157.67 353.49 151.66 355.9 151.66C357.42 151.66 361.16 151.66 362.45 152.12C365.09 153.06 367.13 160.25 369 163.81C371.06 167.73 373.44 173.16 375.55 177.05C377.37 180.42 379.98 184.83 382.1 188.01C383.91 190.73 386.7 194.1 388.65 196.73C390.63 199.39 393.25 202.96 395.2 205.64C397.18 208.36 399.74 212.03 401.75 214.72C403.67 217.28 406.25 220.68 408.3 223.13C410.18 225.37 412.91 228.16 414.85 230.35C416.84 232.61 419.44 235.68 421.4 237.97C423.37 240.29 425.9 243.48 427.95 245.72C429.83 247.77 432.56 250.3 434.5 252.3C436.49 254.35 439.18 257.06 441.05 259.22C443.11 261.61 445.76 264.91 447.6 267.47C449.69 270.37 451.99 274.59 454.15 277.42C455.92 279.74 458.77 282.44 460.7 284.63C462.7 286.9 465.25 290.03 467.25 292.3C469.18 294.5 471.82 297.37 473.8 299.52C475.75 301.63 478.37 304.42 480.35 306.5C482.3 308.56 484.93 311.28 486.9 313.32C488.86 315.34 491.47 318.01 493.45 320.01C495.4 321.99 497.97 324.67 500 326.56C501.9 328.33 504.46 330.7 506.55 332.23C508.39 333.59 511.01 335.29 513.1 336.19C514.94 336.99 517.69 337.37 519.65 337.91C521.62 338.45 524.39 339.78 526.2 339.78C528.32 339.78 531.12 336.93 532.75 335.22C535.05 332.81 537.37 328.83 539.3 326.06C541.3 323.2 544.16 319.5 545.85 316.46C548.09 312.44 550.01 306.45 552.4 302.55C553.94 300.03 556.91 297.23 558.95 295.05C560.84 293.03 563.46 290.41 565.5 288.54C567.39 286.81 570.09 284.7 572.05 283.04C574.02 281.38 576.74 279.26 578.6 277.48C580.67 275.5 583.28 272.68 585.15 270.51C587.21 268.12 589.35 264.22 591.7 262.27C593.28 260.97 596.32 259.67 598.25 259.67C600.25 259.67 602.81 262.97 604.8 262.97C606.74 262.97 609.48 261.17 611.35 260.15C613.41 259.04 616.17 257.43 617.9 255.87C620.1 253.89 622.43 250.56 624.45 248.37C626.36 246.3 629.4 243.95 631 241.67C633.33 238.34 635.54 233.25 637.55 229.68C639.47 226.28 642.02 221.74 644.1 218.45C645.95 215.53 648.57 211.72 650.65 208.96C652.5 206.49 655.24 203.41 657.2 201.02C659.17 198.62 661.45 195 663.75 193.02C665.38 191.61 668.7 189.73 670.3 189.73C672.63 189.73 675.24 195.45 676.85 198.21C679.17 202.19 681.3 208.08 683.4 212.21C685.23 215.79 687.85 220.48 689.95 223.91C691.78 226.91 694.8 230.57 696.5 233.64C698.73 237.67 701.09 243.4 703.05 247.59C705.02 251.79 707.77 257.34 709.6 261.61C711.7 266.52 714.01 273.28 716.15 278.17C717.94 282.27 720.65 287.61 722.7 291.6C724.58 295.27 726.89 300.35 729.25 303.68C730.82 305.89 733.61 308.46 735.8 310.06C737.54 311.33 740.38 312.29 742.35 313.24C744.31 314.18 746.94 315.4 748.9 316.35C750.87 317.3 753.38 318.97 755.45 319.57C757.31 320.11 760.24 319.57 762 320.15C764.17 320.86 766.71 324.9 768.55 324.9C770.64 324.9 773.33 320.51 775.1 318.4C777.26 315.82 779.43 311.77 781.65 309.28C783.36 307.36 786.07 305.11 788.2 303.67C790 302.44 792.73 301.26 794.75 300.39C796.66 299.57 799.45 298.98 801.3 298.04C803.38 296.99 805.87 295.02 807.85 293.76C809.8 292.52 812.51 291.03 814.4 289.71C816.44 288.29 818.8 285.82 820.95 284.64C822.73 283.66 825.8 283.61 827.5 282.53C829.73 281.12 831.94 276.34 834.05 276.34C835.87 276.34 838.73 279.16 840.6 280.56C842.66 282.1 845.16 284.49 847.15 286.13C849.09 287.74 851.5 291.39 853.7 291.39C855.43 291.39 858.31 290.78 860.25 290.37C862.24 289.95 864.85 289.19 866.8 288.61C868.78 288.02 871.38 287.08 873.35 286.44C875.31 285.8 877.89 284.34 879.9 284.34C881.82 284.34 884.48 284.91 886.45 285.11C888.41 285.31 891.03 285.52 893 285.67C894.96 285.82 897.58 285.99 899.55 286.12C901.51 286.25 904.16 286.51 906.1 286.51C908.09 286.51 910.67 285.3 912.65 284.91C914.6 284.53 917.4 283.95 919.2 283.95C921.33 283.95 923.77 286.96 925.75 288.23C927.7 289.48 930.35 291.08 932.3 292.35C934.28 293.64 936.87 295.46 938.85 296.76C940.8 298.03 943.27 300.64 945.4 300.91C947.2 301.14 949.98 301.09 951.95 301.14C953.91 301.19 956.54 301.17 958.5 301.22C960.47 301.27 963.09 301.3 965.05 301.46C967.02 301.62 969.7 301.81 971.6 302.3C973.63 302.82 976.17 304.12 978.15 304.85C980.1 305.57 982.74 306.43 984.7 307.12C986.67 307.81 989.29 308.72 991.25 309.42C993.22 310.13 995.85 311.07 997.8 311.82C999.78 312.58 1002.38 313.68 1004.35 314.47C1006.31 315.26 1008.99 316.18 1010.9 317.09C1012.92 318.05 1015.46 319.65 1017.45 320.69C1019.39 321.7 1022.03 322.96 1024 323.93C1025.96 324.9 1028.54 326.29 1030.55 327.15C1032.47 327.98 1035.08 329.08 1037.1 329.56C1039.01 330.02 1041.68 330.28 1043.65 330.28C1045.61 330.28 1048.34 330.17 1050.2 329.61C1052.27 328.99 1054.8 327.36 1056.75 326.35C1058.73 325.33 1061.35 323.94 1063.3 322.86C1065.28 321.76 1067.86 320.16 1069.85 319.06C1071.79 317.98 1074.32 316.11 1076.4 315.58C1078.25 315.11 1080.99 315.11 1082.95 315.11C1084.92 315.11 1087.64 315.47 1089.5 316.09C1091.57 316.77 1094.14 318.35 1096.05 319.44C1098.07 320.6 1100.55 323.59 1102.6 323.59C1104.48 323.59 1107.13 321.42 1109.15 320.74C1111.06 320.08 1113.75 319.12 1115.7 319.12C1117.68 319.12 1120.35 320.34 1122.25 321.08C1124.28 321.88 1126.98 323.08 1128.8 324.26C1130.91 325.63 1133.4 327.97 1135.35 329.59C1137.33 331.23 1139.95 333.45 1141.9 335.13C1143.88 336.82 1146.4 339.21 1148.45 340.81C1150.33 342.28 1152.89 344.3 1155 345.37C1156.82 346.29 1159.56 346.93 1161.55 347.44C1163.49 347.94 1166.58 347.6 1168.1 348.72C1170.51 350.5 1172.71 354.55 1174.65 357.08C1176.64 359.67 1179.17 363.21 1181.2 365.77C1183.1 368.16 1185.71 371.3 1187.75 373.58C1189.64 375.69 1192.23 378.47 1194.3 380.39C1196.16 382.11 1198.81 384.24 1200.85 385.73C1202.74 387.11 1205.28 389.09 1207.4 389.95C1209.21 390.68 1211.99 390.69 1213.95 391.02C1215.92 391.35 1220.5 392.12 1220.5 392.12" fill="none" stroke="#ff55ff" stroke-width="1"/>
<path d="M238 247.49C238 247.49 242.46 242.83 244.55 241.05C246.39 239.49 249.02 237.56 251.1 236.36C252.95 235.3 255.65 234.26 257.65 233.5C259.58 232.76 262.19 231.81 264.2 231.38C266.12 230.97 268.79 230.9 270.75 230.68C272.72 230.45 275.33 230.11 277.3 229.91C279.26 229.71 281.88 229.37 283.85 229.34C285.81 229.3 288.56 229.34 290.4 229.3C292.49 229.26 295.21 227.15 296.95 225.79C299.14 224.07 301.53 221.07 303.5 219.05C305.46 217.04 308.04 214.31 310.05 212.35C311.97 210.48 314.46 207.87 316.6 206.3C318.39 204.98 321.13 203.66 323.15 202.71C325.06 201.82 327.79 201.05 329.7 200.18C331.72 199.25 334.27 197.7 336.25 196.69C338.2 195.68 340.81 194.35 342.8 193.44C344.74 192.55 347.38 191.51 349.35 190.68C351.31 189.86 353.93 188.76 355.9 187.94C357.86 187.13 360.46 185.98 362.45 185.23C364.39 184.5 366.98 183.44 369 183C370.91 182.59 373.61 182.76 375.55 182.43C377.54 182.08 380.11 181.15 382.1 180.74C384.04 180.34 386.68 179.74 388.65 179.74C390.61 179.74 393.33 179.91 395.2 180.46C397.26 181.06 399.78 182.64 401.75 183.56C403.71 184.47 406.34 185.65 408.3 186.56C410.27 187.47 412.8 188.95 414.85 189.61C416.73 190.21 419.44 190.41 421.4 190.77C423.37 191.12 426.22 191.12 427.95 191.99C430.15 193.1 432.72 195.57 434.5 197.36C436.65 199.52 439 202.9 441.05 205.17C442.93 207.26 445.54 209.98 447.6 211.9C449.47 213.65 452.12 215.83 454.15 217.39C456.05 218.86 458.66 220.73 460.7 222C462.59 223.18 465.27 224.51 467.25 225.55C469.2 226.57 471.84 227.87 473.8 228.87C475.77 229.87 478.32 231.37 480.35 232.21C482.25 233 485.11 233.35 486.9 234.32C489.04 235.47 491.73 237.54 493.45 239.28C495.66 241.52 498.06 245.06 500 247.56C501.99 250.12 504.52 253.64 506.55 256.17C508.45 258.54 511.07 261.64 513.1 263.89C515 265.99 517.63 268.71 519.65 270.69C521.56 272.55 524.1 275.07 526.2 276.68C528.03 278.09 530.68 279.76 532.75 280.75C534.61 281.63 537.31 282.34 539.3 282.9C541.24 283.45 543.86 284.26 545.85 284.44C547.79 284.61 550.49 284.44 552.4 284.61C554.42 284.8 556.98 286.25 558.95 286.93C560.91 287.6 563.54 288.45 565.5 289.13C567.47 289.82 570.08 290.81 572.05 291.5C574.01 292.18 576.61 293.14 578.6 293.71C580.54 294.27 583.16 295 585.15 295.28C587.09 295.55 589.73 295.49 591.7 295.56C593.66 295.63 596.29 295.64 598.25 295.73C600.22 295.82 602.87 296.18 604.8 296.18C606.8 296.18 609.49 295.17 611.35 294.37C613.42 293.48 615.87 291.59 617.9 290.58C619.8 289.63 622.46 288.57 624.45 287.81C626.39 287.07 629.13 286.47 631 285.59C633.06 284.62 635.61 282.87 637.55 281.65C639.54 280.4 642.18 278.72 644.1 277.37C646.11 275.96 648.67 273.92 650.65 272.46C652.6 271.02 655.26 269.15 657.2 267.69C659.19 266.2 661.65 263.93 663.75 262.64C665.58 261.5 668.26 260.27 670.3 259.59C672.19 258.96 674.89 258.68 676.85 258.27C678.82 257.87 681.43 257.25 683.4 256.88C685.36 256.5 687.99 256.12 689.95 255.78C691.92 255.44 694.54 254.97 696.5 254.62C698.47 254.27 701.08 253.75 703.05 253.44C705.01 253.12 707.63 252.51 709.6 252.51C711.56 252.51 714.19 252.55 716.15 252.55C718.12 252.55 720.73 251.63 722.7 251.63C724.66 251.63 727.33 251.74 729.25 252.12C731.26 252.52 733.88 253.51 735.8 254.25C737.81 255.03 740.47 256.16 742.35 257.2C744.4 258.33 746.83 260.41 748.9 261.48C750.76 262.43 753.44 263.38 755.45 263.95C757.37 264.49 760.07 264.65 762 265.15C764 265.68 766.55 267.39 768.55 267.39C770.48 267.39 773.12 266.44 775.1 266.15C777.05 265.87 779.68 265.51 781.65 265.47C783.61 265.43 786.24 265.43 788.2 265.43C790.17 265.43 792.78 265.62 794.75 265.7C796.71 265.77 799.4 265.7 801.3 265.94C803.33 266.2 806 267.44 807.85 268.4C809.93 269.48 812.37 271.57 814.4 272.76C816.3 273.86 818.95 275.12 820.95 276.04C822.88 276.93 825.62 277.78 827.5 278.77C829.55 279.85 832.07 281.72 834.05 282.94C836 284.14 838.66 285.64 840.6 286.86C842.59 288.11 845.19 289.89 847.15 291.19C849.12 292.5 851.63 294.45 853.7 295.55C855.56 296.54 858.22 297.63 860.25 298.15C862.15 298.63 864.84 298.9 866.8 298.9C868.77 298.9 871.38 298.13 873.35 297.81C875.31 297.5 877.92 297.01 879.9 296.8C881.85 296.59 884.48 296.54 886.45 296.44C888.41 296.34 891.04 296.21 893 296.12C894.97 296.02 897.59 295.93 899.55 295.79C901.52 295.64 904.16 295.5 906.1 295.16C908.09 294.8 910.65 293.77 912.65 293.44C914.58 293.12 917.23 293.01 919.2 293C921.16 293 923.78 293 925.75 293C927.71 293 930.34 293 932.3 293C934.27 293 936.88 292.52 938.85 292.32C940.81 292.12 943.45 291.95 945.4 291.65C947.38 291.35 949.97 290.58 951.95 290.3C953.9 290.02 956.57 290.15 958.5 289.81C960.5 289.45 963.08 287.97 965.05 287.97C967.01 287.97 969.65 289.2 971.6 289.79C973.58 290.39 976.19 291.31 978.15 291.96C980.12 292.62 982.72 293.54 984.7 294.15C986.65 294.76 989.28 295.49 991.25 296.01C993.21 296.52 995.84 297.11 997.8 297.59C999.77 298.08 1002.38 298.74 1004.35 299.22C1006.31 299.7 1008.93 300.32 1010.9 300.78C1012.86 301.24 1015.48 301.89 1017.45 302.31C1019.41 302.74 1022.04 303.22 1024 303.61C1025.97 304 1028.58 304.53 1030.55 304.91C1032.51 305.29 1035.12 305.86 1037.1 306.12C1039.05 306.39 1041.68 306.56 1043.65 306.68C1045.61 306.8 1048.25 306.7 1050.2 306.89C1052.18 307.09 1054.78 307.68 1056.75 308C1058.71 308.32 1061.34 308.7 1063.3 309.01C1065.27 309.32 1067.89 309.77 1069.85 310.1C1071.82 310.42 1074.44 310.86 1076.4 311.19C1078.37 311.53 1080.99 311.93 1082.95 312.31C1084.92 312.7 1087.57 313.2 1089.5 313.75C1091.5 314.31 1094.09 315.31 1096.05 316.02C1098.02 316.73 1100.57 318.34 1102.6 318.49C1104.5 318.62 1107.18 318.62 1109.15 318.62C1111.11 318.62 1113.74 318.62 1115.7 318.62C1117.67 318.62 1120.29 318.8 1122.25 318.95C1124.22 319.11 1126.85 319.34 1128.8 319.65C1130.78 319.96 1133.39 320.6 1135.35 321.04C1137.32 321.48 1140 321.95 1141.9 322.6C1143.93 323.29 1146.48 324.66 1148.45 325.54C1150.41 326.41 1153.03 327.59 1155 328.46C1156.96 329.33 1159.57 330.51 1161.55 331.35C1163.5 332.16 1166.11 333.25 1168.1 333.96C1170.04 334.65 1172.69 335.4 1174.65 336.03C1176.62 336.66 1179.24 337.52 1181.2 338.17C1183.17 338.81 1185.78 339.69 1187.75 340.34C1189.71 340.99 1192.34 341.84 1194.3 342.51C1196.27 343.17 1198.88 344.13 1200.85 344.79C1202.81 345.45 1205.43 346.26 1207.4 346.89C1209.36 347.51 1211.99 348.33 1213.95 348.98C1215.92 349.63 1220.5 351.19 1220.5 351.19" fill="none" stroke="#55ff55" stroke-width="1"/>
<path d="M434.5 222.43C434.5 222.43 439.09 222.85 441.05 223.11C443.02 223.37 445.64 223.78 447.6 224.13C449.57 224.48 452.18 225.06 454.15 225.44C456.11 225.83 458.74 226.29 460.7 226.69C462.67 227.09 465.28 227.71 467.25 228.11C469.21 228.52 471.84 228.99 473.8 229.39C475.77 229.79 478.38 230.41 480.35 230.77C482.31 231.14 484.93 231.54 486.9 231.81C488.86 232.07 491.49 232.31 493.45 232.54C495.42 232.76 498.04 233.04 500 233.3C501.97 233.56 504.58 233.99 506.55 234.26C508.51 234.53 511.16 234.73 513.1 235.09C515.09 235.46 517.69 236.2 519.65 236.7C521.62 237.2 524.2 238.13 526.2 238.43C528.13 238.72 530.79 238.72 532.75 238.72C534.72 238.72 537.34 238.34 539.3 238.17C541.27 238 543.9 237.84 545.85 237.56C547.83 237.28 550.42 236.48 552.4 236.28C554.35 236.08 556.98 236.09 558.95 236.08C560.91 236.07 563.54 236.07 565.5 236.07C567.47 236.07 570.08 236.79 572.05 236.96C574.01 237.13 576.64 237.14 578.6 237.23C580.57 237.31 583.19 237.39 585.15 237.51C587.12 237.62 589.76 237.69 591.7 238.01C593.69 238.33 596.29 239.14 598.25 239.64C600.22 240.15 602.81 241.01 604.8 241.37C606.74 241.72 609.4 241.99 611.35 241.99C613.33 241.99 615.92 240.99 617.9 240.67C619.85 240.36 622.51 239.9 624.45 239.9C626.44 239.9 629.05 240.95 631 241.48C632.98 242.01 635.56 242.93 637.55 243.41C639.49 243.88 642.12 244.41 644.1 244.64C646.05 244.86 648.68 244.93 650.65 244.93C652.61 244.93 655.24 244.93 657.2 244.84C659.17 244.76 661.78 244.09 663.75 244.09C665.71 244.09 668.35 244.09 670.3 244.23C672.28 244.36 674.87 245.04 676.85 245.24C678.8 245.45 681.47 245.26 683.4 245.6C685.4 245.95 688.07 246.74 689.95 247.53C692 248.39 694.55 250 696.5 251.09C698.48 252.18 701.07 253.72 703.05 254.8C705 255.86 707.64 257.18 709.6 258.2C711.57 259.22 714.14 260.7 716.15 261.62C718.07 262.49 720.72 263.43 722.7 264.16C724.65 264.87 727.28 265.77 729.25 266.43C731.21 267.1 733.84 267.92 735.8 268.58C737.77 269.24 740.38 270.15 742.35 270.82C744.31 271.49 746.94 272.35 748.9 273.04C750.87 273.74 753.46 274.81 755.45 275.44C757.39 276.04 760.06 276.55 762 277.14C763.99 277.75 766.53 279.01 768.55 279.44C770.46 279.85 773.13 279.79 775.1 279.93C777.06 280.07 779.68 280.29 781.65 280.37C783.61 280.46 786.24 280.44 788.2 280.49C790.17 280.54 792.79 280.63 794.75 280.71C796.72 280.8 799.33 280.96 801.3 281.06C803.26 281.16 805.88 281.3 807.85 281.39C809.81 281.48 812.43 281.59 814.4 281.67C816.36 281.75 818.98 281.85 820.95 281.92C822.91 282 825.53 282.13 827.5 282.18C829.46 282.24 832.09 282.3 834.05 282.3C836.02 282.3 838.64 282.18 840.6 282.11C842.57 282.04 845.18 281.9 847.15 281.83C849.11 281.75 851.75 281.83 853.7 281.62C855.68 281.41 858.28 280.75 860.25 280.39C862.21 280.03 864.84 279.6 866.8 279.24C868.77 278.89 871.39 278.4 873.35 278.04C875.32 277.68 877.92 277.13 879.9 276.84C881.85 276.55 884.49 276.33 886.45 276.11C888.42 275.89 891.04 275.59 893 275.37C894.97 275.14 897.59 274.84 899.55 274.61C901.52 274.38 904.14 274.08 906.1 273.83C908.07 273.59 910.68 273.22 912.65 272.99C914.61 272.77 917.23 272.32 919.2 272.32C921.16 272.32 923.8 272.36 925.75 272.56C927.73 272.76 930.34 273.3 932.3 273.63C934.27 273.96 936.91 274.32 938.85 274.76C940.84 275.2 943.4 276.2 945.4 276.56C947.33 276.91 949.98 276.99 951.95 277.12C953.91 277.26 956.53 277.4 958.5 277.48C960.46 277.56 963.09 277.61 965.05 277.68C967.02 277.75 969.64 277.82 971.6 277.97C973.57 278.13 976.19 278.44 978.15 278.72C980.12 278.99 982.73 279.47 984.7 279.79C986.66 280.11 989.28 280.55 991.25 280.85C993.21 281.15 995.87 281.33 997.8 281.77C999.8 282.22 1002.43 283.08 1004.35 283.81C1006.36 284.58 1008.91 285.95 1010.9 286.77C1012.84 287.56 1015.47 288.51 1017.45 289.18C1019.4 289.83 1022.07 290.49 1024 291.19C1026 291.91 1028.58 293.13 1030.55 293.93C1032.51 294.72 1035.13 295.74 1037.1 296.49C1039.06 297.24 1041.68 298.22 1043.65 298.94C1045.61 299.64 1048.22 300.6 1050.2 301.22C1052.15 301.84 1054.76 302.66 1056.75 303.07C1058.69 303.48 1061.33 303.96 1063.3 303.96C1065.26 303.96 1067.89 303.95 1069.85 303.95C1071.82 303.95 1074.44 303.95 1076.4 304C1078.37 304.04 1080.99 304.24 1082.95 304.38C1084.92 304.52 1087.54 304.7 1089.5 304.93C1091.47 305.16 1094.08 305.62 1096.05 305.9C1098.01 306.18 1100.63 306.82 1102.6 306.82C1104.56 306.82 1107.18 306.18 1109.15 306.03C1111.11 305.88 1113.73 305.81 1115.7 305.81C1117.66 305.81 1120.29 305.9 1122.25 305.97C1124.22 306.05 1126.84 306.22 1128.8 306.32C1130.77 306.43 1133.39 306.56 1135.35 306.68C1137.32 306.8 1139.94 306.94 1141.9 307.13C1143.87 307.31 1146.49 307.62 1148.45 307.92C1150.42 308.22 1153.02 308.87 1155 309.13C1156.95 309.39 1159.64 309.26 1161.55 309.66C1163.57 310.08 1166.13 311.22 1168.1 311.87C1170.06 312.52 1172.69 313.36 1174.65 314C1176.62 314.64 1179.23 315.53 1181.2 316.16C1183.16 316.78 1185.78 317.59 1187.75 318.17C1189.71 318.75 1192.34 319.47 1194.3 320.05C1196.27 320.63 1198.88 321.44 1200.85 322.01C1202.81 322.57 1205.43 323.29 1207.4 323.83C1209.36 324.38 1211.98 325.11 1213.95 325.65C1215.91 326.18 1220.5 327.4 1220.5 327.4" fill="none" stroke="#5555ff" stroke-width="1"/>
</g>
<g id="macd">
<g fill="#2b8080">
<rect x="261.52" y="471.31" width="5.35" height="8.19"/>
<rect x="268.07" y="479.5" width="5.35" height="3.11"/>
<rect x="274.62" y="479.5" width="5.35" height="10.91"/>
<rect x="281.17" y="479.5" width="5.35" height="15.68"/>
<rect x="287.72" y="479.5" width="5.35" height="22.62"/>
<rect x="294.27" y="479.5" width="5.35" height="16.9"/>
<rect x="300.82" y="479.5" width="5.35" height="2.21"/>
<rect x="307.38" y="471.69" width="5.35" height="7.81"/>
<rect x="313.93" y="469.41" width="5.35" height="10.09"/>
<rect x="320.47" y="472.27" width="5.35" height="7.23"/>
<rect x="327.02" y="477.21" width="5.35" height="2.29"/>
<rect x="333.57" y="479.5" width="5.35" height="1.65"/>
<rect x="340.12" y="479.5" width="5.35" height="5.26"/>
<rect x="346.68" y="479.5" width="5.35" height="9.27"/>
<rect x="353.22" y="479.5" width="5.35" height="11.68"/>
<rect x="359.77" y="479.5" width="5.35" height="12.99"/>
<rect x="366.32" y="479.5" width="5.35" height="15.08"/>
<rect x="372.88" y="479.5" width="5.35" height="16.53"/>
<rect x="379.43" y="479.5" width="5.35" height="17.56"/>
<rect x="385.97" y="479.5" width="5.35" height="18.43"/>
<rect x="392.52" y="479.5" width="5.35" height="20.74"/>
<rect x="399.07" y="479.5" width="5.35" height="21.71"/>
<rect x="405.62" y="479.5" width="5.35" height="21.34"/>
<rect x="412.18" y="479.5" width="5.35" height="20.34"/>
<rect x="418.72" y="479.5" width="5.35" height="19.07"/>
<rect x="425.27" y="479.5" width="5.35" height="17.41"/>
<rect x="431.82" y="479.5" width="5.35" height="15.7"/>
<rect x="438.38" y="479.5" width="5.35" height="14.67"/>
<rect x="444.93" y="479.5" width="5.35" height="15.27"/>
<rect x="451.47" y="479.5" width="5.35" height="17.42"/>
<rect x="458.02" y="479.5" width="5.35" height="17.18"/>
<rect x="464.57" y="479.5" width="5.35" height="16.84"/>
<rect x="471.12" y="479.5" width="5.35" height="15.01"/>
<rect x="477.68" y="479.5" width="5.35" height="12.78"/>
<rect x="484.22" y="479.5" width="5.35" height="10.59"/>
<rect x="490.77" y="479.5" width="5.35" height="8.31"/>
<rect x="497.32" y="479.5" width="5.35" height="6.21"/>
<rect x="503.88" y="479.5" width="5.35" height="4.17"/>
<rect x="510.43" y="479.5" width="5.35" height="2.55"/>
<rect x="516.98" y="479.5" width="5.35" height="1.28"/>
<rect x="523.52" y="479.19" width="5.35" height="0.31"/>
<rect x="530.08" y="471.76" width="5.35" height="7.74"/>
<rect x="536.62" y="461.65" width="5.35" height="17.85"/>
<rect x="543.18" y="455.43" width="5.35" height="24.07"/>
<rect x="549.73" y="448.03" width="5.35" height="31.47"/>
<rect x="556.27" y="451.78" width="5.35" height="27.72"/>
<rect x="562.82" y="456.65" width="5.35" height="22.85"/>
<rect x="569.38" y="461.88" width="5.35" height="17.62"/>
<rect x="575.92" y="466.22" width="5.35" height="13.28"/>
<rect x="582.48" y="468.36" width="5.35" height="11.14"/>
<rect x="589.02" y="468.58" width="5.35" height="10.92"/>
<rect x="595.57" y="469.38" width="5.35" height="10.12"/>
<rect x="602.12" y="471.39" width="5.35" height="8.11"/>
<rect x="608.67" y="466.02" width="5.35" height="13.48"/>
<rect x="615.23" y="457.38" width="5.35" height="22.12"/>
<rect x="621.77" y="456.73" width="5.35" height="22.77"/>
<rect x="628.32" y="459.79" width="5.35" height="19.71"/>
<rect x="634.88" y="458.32" width="5.35" height="21.18"/>
<rect x="641.42" y="459.82" width="5.35" height="19.68"/>
<rect x="647.98" y="462.76" width="5.35" height="16.74"/>
<rect x="654.52" y="465.84" width="5.35" height="13.66"/>
<rect x="661.07" y="468.9" width="5.35" height="10.6"/>
<rect x="667.62" y="477.85" width="5.35" height="1.65"/>
<rect x="674.17" y="479.5" width="5.35" height="10.15"/>
<rect x="680.73" y="479.5" width="5.35" height="17.35"/>
<rect x="687.27" y="479.5" width="5.35" height="22.29"/>
<rect x="693.82" y="479.5" width="5.35" height="24.47"/>
<rect x="700.38" y="479.5" width="5.35" height="24.73"/>
<rect x="706.92" y="479.5" width="5.35" height="24.91"/>
<rect x="713.48" y="479.5" width="5.35" height="27.26"/>
<rect x="720.02" y="479.5" width="5.35" height="23.98"/>
<rect x="726.57" y="479.5" width="5.35" height="19.22"/>
<rect x="733.12" y="479.5" width="5.35" height="15.09"/>
<rect x="739.67" y="479.5" width="5.35" height="13.86"/>
<rect x="746.23" y="479.5" width="5.35" height="12.13"/>
<rect x="752.77" y="479.5" width="5.35" height="11.39"/>
<rect x="759.32" y="479.5" width="5.35" height="7.27"/>
<rect x="765.88" y="479.5" width="5.35" height="8.6"/>
<rect x="772.42" y="477.2" width="5.35" height="2.3"/>
<rect x="778.98" y="470.87" width="5.35" height="8.63"/>
<rect x="785.52" y="467.61" width="5.35" height="11.89"/>
<rect x="792.07" y="467.14" width="5.35" height="12.36"/>
<rect x="798.62" y="468.29" width="5.35" height="11.21"/>
<rect x="805.17" y="469.62" width="5.35" height="9.88"/>
<rect x="811.73" y="471.04" width="5.35" height="8.46"/>
<rect x="818.27" y="472.33" width="5.35" height="7.17"/>
<rect x="824.82" y="473.79" width="5.35" height="5.71"/>
<rect x="831.38" y="475.03" width="5.35" height="4.47"/>
<rect x="837.92" y="476.26" width="5.35" height="3.24"/>
<rect x="844.48" y="479.24" width="5.35" height="0.3"/>
<rect x="851.02" y="479.5" width="5.35" height="1.7"/>
<rect x="857.57" y="476.62" width="5.35" height="2.88"/>
<rect x="864.12" y="473.99" width="5.35" height="5.51"/>
<rect x="870.67" y="472.33" width="5.35" height="7.17"/>
<rect x="877.23" y="471.9" width="5.35" height="7.6"/>
<rect x="883.77" y="475.19" width="5.35" height="4.31"/>
<rect x="890.32" y="477.63" width="5.35" height="1.87"/>
<rect x="896.88" y="479.24" width="5.35" height="0.3"/>
<rect x="903.42" y="479.5" width="5.35" height="0.98"/>
<rect x="909.98" y="479.5" width="5.35" height="1.65"/>
<rect x="916.52" y="479.5" width="5.35" height="2.82"/>
<rect x="923.07" y="479.5" width="5.35" height="3.43"/>
<rect x="929.62" y="479.5" width="5.35" height="3.6"/>
<rect x="936.17" y="479.5" width="5.35" height="3.54"/>
<rect x="942.73" y="479.5" width="5.35" height="3.27"/>
<rect x="949.27" y="479.5" width="5.35" height="1.8"/>
<rect x="955.82" y="479.5" width="5.35" height="0.73"/>
<rect x="962.38" y="479.5" width="5.35" height="0.13"/>
<rect x="968.92" y="479.5" width="5.35" height="0.57"/>
<rect x="975.48" y="479.5" width="5.35" height="2.56"/>
<rect x="982.02" y="479.5" width="5.35" height="4.16"/>
<rect x="988.57" y="479.5" width="5.35" height="4.95"/>
<rect x="995.12" y="479.5" width="5.35" height="5.19"/>
<rect x="1001.67" y="479.5" width="5.35" height="5.31"/>
<rect x="1008.23" y="479.5" width="5.35" height="4.96"/>
<rect x="1014.77" y="479.5" width="5.35" height="4.36"/>
<rect x="1021.32" y="479.5" width="5.35" height="3.22"/>
<rect x="1027.88" y="479.5" width="5.35" height="2.35"/>
<rect x="1034.42" y="479.5" width="5.35" height="1.53"/>
<rect x="1040.98" y="479.5" width="5.35" height="0.77"/>
<rect x="1047.53" y="478.64" width="5.35" height="0.86"/>
<rect x="1054.08" y="474.77" width="5.35" height="4.73"/>
<rect x="1060.62" y="472.31" width="5.35" height="7.19"/>
<rect x="1067.17" y="471.02" width="5.35" height="8.48"/>
<rect x="1073.72" y="470.87" width="5.35" height="8.63"/>
<rect x="1080.27" y="474.41" width="5.35" height="5.09"/>
<rect x="1086.83" y="478.01" width="5.35" height="1.49"/>
<rect x="1093.38" y="479.5" width="5.35" height="3.51"/>
<rect x="1099.92" y="479.5" width="5.35" height="7.24"/>
<rect x="1106.47" y="479.5" width="5.35" height="1.47"/>
<rect x="1113.02" y="477.57" width="5.35" height="1.93"/>
<rect x="1119.58" y="476.59" width="5.35" height="2.91"/>
<rect x="1126.12" y="477.23" width="5.35" height="2.27"/>
<rect x="1132.67" y="479.5" width="5.35" height="0.49"/>
<rect x="1139.22" y="479.5" width="5.35" height="2.67"/>
<rect x="1145.77" y="479.5" width="5.35" height="7.23"/>
<rect x="1152.33" y="479.5" width="5.35" height="9.57"/>
<rect x="1158.88" y="479.5" width="5.35" height="10.44"/>
<rect x="1165.42" y="479.5" width="5.35" height="10.29"/>
<rect x="1171.97" y="479.5" width="5.35" height="9.53"/>
<rect x="1178.52" y="479.5" width="5.35" height="9.12"/>
<rect x="1185.08" y="479.5" width="5.35" height="8.36"/>
<rect x="1191.62" y="479.5" width="5.35" height="7.3"/>
<rect x="1198.17" y="479.5" width="5.35" height="6.73"/>
<rect x="1204.72" y="479.5" width="5.35" height="5.09"/>
<rect x="1211.27" y="479.5" width="5.35" height="3.51"/>
<rect x="1217.83" y="479.5" width="5.35" height="2.05"/>
</g>
<path d="M264.2 479.3H1220.5" stroke="#00aa00" stroke-width="1" stroke-dasharray="5 5" fill="none" opacity="0.8"/>
<path d="M264.2 418.8C264.2 418.8 268.68 427.32 270.75 430.88C272.61 434.1 275.21 438.33 277.3 441.4C279.14 444.1 282.14 447.32 283.85 450.09C286.07 453.71 287.73 462.68 290.4 462.68C291.66 462.68 295.77 462.6 296.95 461.19C299.7 457.92 301.4 451.23 303.5 447.05C305.33 443.39 307.59 438.23 310.05 435.08C311.52 433.2 314.44 430.28 316.6 430.28C318.37 430.28 321.35 430.59 323.15 431.34C325.28 432.22 327.73 434.39 329.7 435.7C331.66 437.01 334.33 438.69 336.25 440.05C338.26 441.47 340.94 443.38 342.8 444.97C344.87 446.75 347.31 449.49 349.35 451.3C351.24 452.99 353.88 455.11 355.9 456.64C357.81 458.08 360.58 459.71 362.45 461.2C364.51 462.83 367.01 465.32 369 467.06C370.94 468.75 373.57 470.97 375.55 472.63C377.5 474.27 380.14 476.43 382.1 478.06C384.07 479.7 386.84 481.74 388.65 483.54C390.77 485.63 393.15 488.86 395.2 491.03C397.08 493.03 399.68 495.63 401.75 497.43C403.61 499.04 406.27 500.99 408.3 502.39C410.2 503.71 412.85 505.32 414.85 506.48C416.78 507.6 419.39 509.03 421.4 509.98C423.32 510.88 425.96 511.92 427.95 512.67C429.89 513.39 432.56 514.16 434.5 514.89C436.49 515.62 439.2 516.53 441.05 517.52C443.13 518.64 445.79 520.43 447.6 521.94C449.72 523.71 452.01 526.72 454.15 528.44C455.94 529.88 458.72 531.3 460.7 532.5C462.65 533.68 465.18 535.45 467.25 536.37C469.11 537.19 471.81 537.85 473.8 538.29C475.74 538.71 478.38 539.04 480.35 539.26C482.31 539.47 484.93 539.71 486.9 539.71C488.86 539.71 491.49 539.62 493.45 539.51C495.42 539.4 498.04 539.2 500 538.97C501.97 538.73 504.58 538.27 506.55 537.97C508.51 537.67 511.13 537.28 513.1 536.98C515.06 536.69 517.71 536.42 519.65 536.03C521.64 535.64 524.74 535.6 526.2 534.37C528.67 532.29 531.11 528 532.75 525C535.04 520.81 537.2 514.73 539.3 510.43C541.13 506.69 544.06 501.95 545.85 498.19C547.99 493.7 549.67 486.77 552.4 482.92C553.6 481.23 556.89 480.38 558.95 479.75C560.82 479.17 563.53 478.9 565.5 478.9C567.46 478.9 570.09 479.45 572.05 479.73C574.02 480.01 576.63 480.75 578.6 480.75C580.56 480.75 583.25 480.56 585.15 480.1C587.18 479.61 589.7 478.23 591.7 477.59C593.63 476.96 596.25 475.87 598.25 475.86C600.18 475.85 603.33 475.86 604.8 475.85C607.26 475.83 609.73 469.93 611.35 467.1C613.66 463.06 615.42 456.82 617.9 452.93C619.35 450.66 622.2 448 624.45 446.59C626.13 445.54 629.35 445.81 631 444.73C633.28 443.22 635.35 439.67 637.55 437.96C639.28 436.61 642.03 435.28 644.1 434.54C645.96 433.88 648.67 433.54 650.65 433.3C652.6 433.06 655.24 432.96 657.2 432.96C659.17 432.96 662.26 432.96 663.75 433.36C666.19 434.02 668.71 439.12 670.3 441.91C672.64 445.99 674.72 452.03 676.85 456.25C678.65 459.8 681.37 464.37 683.4 467.79C685.3 470.98 687.83 475.25 689.95 478.29C691.76 480.89 694.4 484.23 696.5 486.59C698.33 488.65 701.08 491.11 703.05 493.04C705.01 494.97 707.84 497.35 709.6 499.45C711.77 502.02 713.74 506.43 716.15 508.62C717.67 509.99 720.66 511.26 722.7 511.32C724.59 511.37 727.29 511.37 729.25 511.37C731.22 511.37 733.89 511.02 735.8 511.02C737.82 511.02 740.35 512.71 742.35 513.25C744.28 513.77 746.96 514.05 748.9 514.55C750.89 515.07 753.49 516.66 755.45 516.66C757.42 516.66 760.1 514.35 762 514.35C764.03 514.35 767.14 517.84 768.55 517.84C771.07 517.84 772.93 509.67 775.1 506.36C776.86 503.68 779.52 500.27 781.65 497.87C783.45 495.85 786.05 493.25 788.2 491.64C789.98 490.31 792.69 488.91 794.75 488.09C796.62 487.34 799.32 486.85 801.3 486.43C803.25 486.01 805.88 485.57 807.85 485.29C809.81 485.02 812.43 484.78 814.4 484.6C816.36 484.41 818.98 484.09 820.95 484.09C822.91 484.09 825.54 484.1 827.5 484.12C829.47 484.15 832.09 484.17 834.05 484.25C836.02 484.33 838.72 484.25 840.6 484.66C842.65 485.11 845.16 486.77 847.15 487.58C849.09 488.36 851.92 489.97 853.7 489.97C855.85 489.97 858.19 486.12 860.25 484.66C862.12 483.33 864.8 481.8 866.8 480.66C868.73 479.56 871.32 478.1 873.35 477.2C875.25 476.36 877.93 474.87 879.9 474.87C881.86 474.87 884.47 476.46 886.45 477.09C888.4 477.72 891.02 478.53 893 479.06C894.95 479.59 897.58 480.16 899.55 480.61C901.51 481.07 904.12 481.71 906.1 482.1C908.05 482.48 910.71 482.74 912.65 483.18C914.64 483.63 917.22 484.55 919.2 485.06C921.15 485.55 923.77 486.14 925.75 486.52C927.7 486.9 930.33 487.3 932.3 487.59C934.26 487.87 936.88 488.2 938.85 488.41C940.81 488.61 943.44 488.95 945.4 488.95C947.37 488.95 949.98 488.23 951.95 487.94C953.91 487.66 956.53 487.27 958.5 487.05C960.46 486.83 963.09 486.49 965.05 486.49C967.02 486.49 969.7 486.6 971.6 487.06C973.63 487.56 976.19 488.91 978.15 489.7C980.12 490.49 982.71 491.63 984.7 492.34C986.64 493.03 989.27 493.82 991.25 494.36C993.2 494.89 995.83 495.46 997.8 495.91C999.76 496.36 1002.37 497 1004.35 497.35C1006.3 497.7 1008.93 498.04 1010.9 498.24C1012.86 498.45 1015.48 498.73 1017.45 498.73C1019.41 498.73 1022.03 498.49 1024 498.4C1025.96 498.31 1028.59 498.22 1030.55 498.11C1032.52 498.01 1035.14 497.83 1037.1 497.68C1039.07 497.53 1041.72 497.46 1043.65 497.11C1045.65 496.74 1048.43 496.19 1050.2 495.26C1052.36 494.12 1054.73 491.64 1056.75 490.21C1058.66 488.85 1061.28 487.14 1063.3 485.95C1065.21 484.84 1067.82 483.43 1069.85 482.55C1071.75 481.71 1074.43 480.24 1076.4 480.24C1078.36 480.24 1081.04 481.7 1082.95 482.51C1084.97 483.35 1087.72 484.49 1089.5 485.73C1091.65 487.22 1094.06 489.87 1096.05 491.61C1097.99 493.3 1100.63 497.15 1102.6 497.15C1104.56 497.15 1107.08 493.21 1109.15 491.74C1111.01 490.43 1113.62 488.75 1115.7 487.87C1117.55 487.08 1120.25 486.16 1122.25 486.16C1124.18 486.16 1126.92 486.16 1128.8 486.23C1130.85 486.31 1133.38 488.26 1135.35 489.12C1137.31 489.98 1140.18 490.75 1141.9 491.96C1144.11 493.51 1146.36 496.56 1148.45 498.33C1150.29 499.89 1152.95 501.78 1155 503.06C1156.88 504.24 1159.53 505.63 1161.55 506.54C1163.46 507.4 1166.1 508.34 1168.1 508.96C1170.03 509.56 1172.69 510.06 1174.65 510.59C1176.62 511.11 1179.22 511.98 1181.2 512.46C1183.15 512.93 1185.77 513.47 1187.75 513.78C1189.7 514.09 1192.34 514.27 1194.3 514.55C1196.27 514.83 1198.87 515.66 1200.85 515.66C1202.8 515.66 1205.44 515.45 1207.4 515.29C1209.37 515.13 1211.99 514.84 1213.95 514.59C1215.92 514.35 1220.5 513.65 1220.5 513.65" fill="none" stroke="#f0f0f0" stroke-width="1"/>
<path d="M264.2 426.99C264.2 426.99 268.86 427.26 270.75 427.77C272.79 428.31 275.41 429.54 277.3 430.5C279.34 431.53 282.01 433.07 283.85 434.41C285.94 435.94 288.33 438.51 290.4 440.07C292.26 441.47 294.82 443.64 296.95 444.29C298.75 444.85 301.57 444.85 303.5 444.85C305.5 444.85 308.11 443.55 310.05 442.89C312.04 442.21 314.6 441.03 316.6 440.37C318.53 439.73 321.15 438.93 323.15 438.56C325.08 438.21 327.73 437.99 329.7 437.99C331.66 437.99 334.3 438.15 336.25 438.4C338.23 438.66 340.87 439.18 342.8 439.72C344.8 440.27 347.42 441.26 349.35 442.03C351.35 442.83 353.95 444.04 355.9 444.95C357.88 445.89 360.52 447.17 362.45 448.2C364.45 449.27 367.06 450.8 369 451.97C370.99 453.17 373.6 454.84 375.55 456.11C377.53 457.4 380.15 459.16 382.1 460.5C384.08 461.86 386.73 463.67 388.65 465.1C390.66 466.6 393.25 468.71 395.2 470.29C397.18 471.9 399.78 474.1 401.75 475.72C403.71 477.33 406.32 479.48 408.3 481.05C410.25 482.6 412.86 484.64 414.85 486.14C416.79 487.6 419.41 489.52 421.4 490.91C423.34 492.25 425.96 494 427.95 495.26C429.89 496.48 432.52 498.04 434.5 499.18C436.45 500.31 439.09 501.74 441.05 502.85C443.02 503.98 445.67 505.47 447.6 506.67C449.6 507.92 452.18 509.73 454.15 511.03C456.11 512.32 458.73 514.04 460.7 515.32C462.66 516.59 465.25 518.32 467.25 519.53C469.18 520.71 471.8 522.22 473.8 523.28C475.73 524.3 478.35 525.59 480.35 526.48C482.28 527.34 484.91 528.41 486.9 529.12C488.84 529.82 491.46 530.65 493.45 531.2C495.39 531.74 498.02 532.36 500 532.75C501.95 533.14 504.58 533.54 506.55 533.8C508.51 534.05 511.13 534.29 513.1 534.43C515.06 534.58 517.68 534.75 519.65 534.75C521.61 534.75 524.28 534.75 526.2 534.68C528.21 534.6 530.93 533.63 532.75 532.74C534.86 531.71 537.45 529.76 539.3 528.28C541.38 526.62 544.02 524.2 545.85 522.26C547.95 520.03 550.37 516.69 552.4 514.39C554.3 512.25 556.89 509.45 558.95 507.46C560.82 505.66 563.44 503.34 565.5 501.75C567.37 500.31 570.01 498.55 572.05 497.35C573.94 496.23 576.6 494.96 578.6 494.03C580.53 493.13 583.18 492.07 585.15 491.24C587.11 490.42 589.72 489.3 591.7 488.51C593.65 487.73 596.26 486.67 598.25 485.98C600.19 485.3 602.91 484.73 604.8 483.95C606.84 483.11 609.53 481.82 611.35 480.58C613.46 479.15 615.95 476.73 617.9 475.05C619.88 473.36 622.43 471 624.45 469.36C626.36 467.81 629.06 465.95 631 464.43C632.99 462.88 635.56 460.69 637.55 459.14C639.49 457.63 642.08 455.62 644.1 454.22C646.01 452.89 648.64 451.2 650.65 450.04C652.57 448.92 655.19 447.55 657.2 446.62C659.12 445.73 661.71 444.41 663.75 443.97C665.64 443.56 668.4 443.56 670.3 443.56C672.33 443.56 674.99 445.12 676.85 446.1C678.92 447.18 681.52 449.01 683.4 450.43C685.45 451.99 688.03 454.29 689.95 456.01C691.96 457.8 694.54 460.28 696.5 462.12C698.47 463.97 701.09 466.45 703.05 468.31C705.02 470.17 707.68 472.62 709.6 474.54C711.61 476.54 714.12 479.37 716.15 481.35C718.05 483.21 720.65 485.65 722.7 487.35C724.58 488.89 727.21 490.82 729.25 492.15C731.14 493.39 733.82 494.83 735.8 495.92C737.75 497 740.36 498.4 742.35 499.39C744.29 500.35 746.92 501.53 748.9 502.42C750.85 503.3 753.44 504.55 755.45 505.27C757.37 505.95 760.05 506.49 762 507.09C763.98 507.69 766.54 509.24 768.55 509.24C770.47 509.24 773.18 509.06 775.1 508.66C777.11 508.24 779.73 507.26 781.65 506.5C783.66 505.72 786.24 504.44 788.2 503.53C790.17 502.62 792.77 501.33 794.75 500.44C796.7 499.57 799.32 498.44 801.3 497.64C803.25 496.86 805.87 495.86 807.85 495.17C809.8 494.49 812.42 493.65 814.4 493.06C816.35 492.47 818.97 491.75 820.95 491.26C822.9 490.78 825.53 490.22 827.5 489.83C829.46 489.45 832.08 489.01 834.05 488.72C836.01 488.43 838.63 487.97 840.6 487.91C842.56 487.84 845.19 487.84 847.15 487.84C849.12 487.84 851.74 488.27 853.7 488.27C855.67 488.27 858.3 487.86 860.25 487.55C862.23 487.23 864.85 486.64 866.8 486.17C868.78 485.69 871.39 484.93 873.35 484.38C875.32 483.82 877.91 482.93 879.9 482.47C881.84 482.03 884.47 481.63 886.45 481.4C888.4 481.17 891.03 480.99 893 480.93C894.96 480.87 897.59 480.87 899.55 480.87C901.52 480.87 904.14 481.01 906.1 481.11C908.07 481.21 910.69 481.36 912.65 481.53C914.62 481.69 917.24 482 919.2 482.23C921.17 482.47 923.79 482.83 925.75 483.09C927.72 483.35 930.33 483.72 932.3 483.99C934.26 484.26 936.88 484.62 938.85 484.87C940.81 485.13 943.43 485.5 945.4 485.69C947.36 485.88 949.98 486.04 951.95 486.14C953.91 486.23 956.53 486.29 958.5 486.32C960.46 486.35 963.09 486.33 965.05 486.35C967.02 486.38 969.64 486.38 971.6 486.5C973.57 486.61 976.19 486.89 978.15 487.14C980.12 487.39 982.74 487.84 984.7 488.18C986.67 488.52 989.29 489.03 991.25 489.41C993.22 489.79 995.84 490.32 997.8 490.71C999.77 491.11 1002.38 491.66 1004.35 492.04C1006.31 492.43 1008.93 492.93 1010.9 493.28C1012.86 493.63 1015.48 494.09 1017.45 494.37C1019.41 494.65 1022.03 494.97 1024 495.18C1025.96 495.38 1028.58 495.62 1030.55 495.76C1032.51 495.91 1035.13 496.06 1037.1 496.15C1039.06 496.23 1041.69 496.34 1043.65 496.34C1045.62 496.34 1048.25 496.33 1050.2 496.12C1052.18 495.91 1054.8 495.38 1056.75 494.94C1058.73 494.49 1061.35 493.73 1063.3 493.14C1065.28 492.55 1067.89 491.66 1069.85 491.02C1071.82 490.38 1074.4 489.39 1076.4 488.87C1078.33 488.36 1080.97 487.84 1082.95 487.59C1084.9 487.35 1087.54 487.22 1089.5 487.22C1091.47 487.22 1094.11 487.7 1096.05 488.1C1098.04 488.51 1100.6 489.58 1102.6 489.91C1104.53 490.23 1107.19 490.28 1109.15 490.28C1111.12 490.28 1113.74 489.97 1115.7 489.79C1117.67 489.61 1120.28 489.26 1122.25 489.07C1124.21 488.87 1126.83 488.5 1128.8 488.5C1130.76 488.5 1133.39 488.51 1135.35 488.62C1137.32 488.74 1139.97 488.93 1141.9 489.29C1143.9 489.67 1146.51 490.48 1148.45 491.1C1150.44 491.74 1153.05 492.75 1155 493.49C1156.98 494.25 1159.58 495.32 1161.55 496.1C1163.51 496.88 1166.13 497.93 1168.1 498.67C1170.06 499.41 1172.68 500.35 1174.65 501.06C1176.61 501.75 1179.23 502.68 1181.2 503.34C1183.16 503.99 1185.77 504.84 1187.75 505.43C1189.7 506.01 1192.33 506.72 1194.3 507.25C1196.26 507.77 1198.87 508.49 1200.85 508.93C1202.8 509.37 1205.43 509.88 1207.4 510.2C1209.36 510.52 1211.98 510.87 1213.95 511.08C1215.91 511.29 1220.5 511.59 1220.5 511.59" fill="none" stroke="#ffff55" stroke-width="1"/>
</g>
<g font-family="'DejaVu Sans Mono','Liberation Mono',monospace" stroke-width="0.12" paint-order="stroke">
<text transform="translate(0 30.8) scale(0.97 1)" x="12.32 20.26 28.2 36.49" text-anchor="middle" fill="#fff" stroke="#fff" font-size="13.2">650M</text>
<text transform="translate(0 30.8) scale(0.97 1)" x="1275 1282.94 1290.88 1299.18" text-anchor="middle" fill="#fff" stroke="#fff" font-size="13.2">650M</text>
<text transform="translate(0 84.8) scale(0.97 1)" x="12.32 20.26 28.2 36.49" text-anchor="middle" fill="#fff" stroke="#fff" font-size="13.2">600M</text>
<text transform="translate(0 84.8) scale(0.97 1)" x="1275 1282.94 1290.88 1299.18" text-anchor="middle" fill="#fff" stroke="#fff" font-size="13.2">600M</text>
<text transform="translate(0 137.8) scale(0.97 1)" x="12.32 20.26 28.2 36.49" text-anchor="middle" fill="#fff" stroke="#fff" font-size="13.2">550M</text>
<text transform="translate(0 137.8) scale(0.97 1)" x="1275 1282.94 1290.88 1299.18" text-anchor="middle" fill="#fff" stroke="#fff" font-size="13.2">550M</text>
<text transform="translate(0 191.8) scale(0.97 1)" x="12.32 20.26 28.2 36.49" text-anchor="middle" fill="#fff" stroke="#fff" font-size="13.2">500M</text>
<text transform="translate(0 191.8) scale(0.97 1)" x="1275 1282.94 1290.88 1299.18" text-anchor="middle" fill="#fff" stroke="#fff" font-size="13.2">500M</text>
<text transform="translate(0 244.8) scale(0.97 1)" x="12.32 20.26 28.2 36.49" text-anchor="middle" fill="#fff" stroke="#fff" font-size="13.2">450M</text>
<text transform="translate(0 244.8) scale(0.97 1)" x="1275 1282.94 1290.88 1299.18" text-anchor="middle" fill="#fff" stroke="#fff" font-size="13.2">450M</text>
<text transform="translate(0 298.8) scale(0.97 1)" x="12.32 20.26 28.2 36.49" text-anchor="middle" fill="#fff" stroke="#fff" font-size="13.2">400M</text>
<text transform="translate(0 298.8) scale(0.97 1)" x="1275 1282.94 1290.88 1299.18" text-anchor="middle" fill="#fff" stroke="#fff" font-size="13.2">400M</text>
<text transform="translate(0 351.8) scale(0.97 1)" x="12.32 20.26 28.2 36.49" text-anchor="middle" fill="#fff" stroke="#fff" font-size="13.2">350M</text>
<text transform="translate(0 351.8) scale(0.97 1)" x="1275 1282.94 1290.88 1299.18" text-anchor="middle" fill="#fff" stroke="#fff" font-size="13.2">350M</text>
<text transform="translate(0 405.8) scale(0.97 1)" x="12.32 20.26 28.2 36.49" text-anchor="middle" fill="#fff" stroke="#fff" font-size="13.2">300M</text>
<text transform="translate(0 405.8) scale(0.97 1)" x="1275 1282.94 1290.88 1299.18" text-anchor="middle" fill="#fff" stroke="#fff" font-size="13.2">300M</text>
<text transform="translate(0 446.8) scale(0.97 1)" x="8.81 16.75 22.47 28.2 36.49" text-anchor="middle" fill="#fff" stroke="#fff" font-size="13.2">20.0M</text>
<text transform="translate(0 446.8) scale(0.97 1)" x="1275 1282.94 1288.66 1294.38 1302.68" text-anchor="middle" fill="#fff" stroke="#fff" font-size="13.2">20.0M</text>
<text transform="translate(0 483.8) scale(0.97 1)" x="17.47 23.2 28.92 36.86" text-anchor="middle" fill="#fff" stroke="#fff" font-size="13.2">0.00</text>
<text transform="translate(0 483.8) scale(0.97 1)" x="1275 1280.72 1286.44 1294.38" text-anchor="middle" fill="#fff" stroke="#fff" font-size="13.2">0.00</text>
<text transform="translate(0 519.8) scale(0.97 1)" x="2.27 8.81 16.75 22.47 28.2 36.49" text-anchor="middle" fill="#fff" stroke="#fff" font-size="13.2">-20.0M</text>
<text transform="translate(0 519.8) scale(0.97 1)" x="1273.61 1280.15 1288.09 1293.81 1299.54 1307.84" text-anchor="middle" fill="#fff" stroke="#fff" font-size="13.2">-20.0M</text>
<text transform="translate(0 343) scale(0.97 1)" x="62.11 70.05 77.99" text-anchor="middle" fill="#3cffff" stroke="#3cffff" font-size="13.2">150</text>
<text transform="translate(0 366) scale(0.97 1)" x="62.11 70.05 77.99" text-anchor="middle" fill="#3cffff" stroke="#3cffff" font-size="13.2">100</text>
<text transform="translate(0 390) scale(0.97 1)" x="62.11 70.05 75.77 81.49" text-anchor="middle" fill="#3cffff" stroke="#3cffff" font-size="13.2">50.0</text>
<text transform="translate(0 412.9) scale(0.97 1)" x="62.11 67.84 73.56 81.49" text-anchor="middle" fill="#3cffff" stroke="#3cffff" font-size="13.2">0.00</text>
<text transform="translate(0 572.9) scale(0.97 1)" x="123.14 131.08 137.63 144.18 152.11" text-anchor="middle" fill="#fff" stroke="#fff" font-size="13.2">02-01</text>
<text transform="translate(0 572.9) scale(0.97 1)" x="311.8 319.74 326.29 332.84 340.77" text-anchor="middle" fill="#fff" stroke="#fff" font-size="13.2">03-01</text>
<text transform="translate(0 572.9) scale(0.97 1)" x="521.08 529.02 535.57 542.11 550.05" text-anchor="middle" fill="#fff" stroke="#fff" font-size="13.2">04-01</text>
<text transform="translate(0 572.9) scale(0.97 1)" x="724.18 732.11 738.66 745.21 753.14" text-anchor="middle" fill="#fff" stroke="#fff" font-size="13.2">05-01</text>
<text transform="translate(0 572.9) scale(0.97 1)" x="933.45 941.39 947.94 954.48 962.42" text-anchor="middle" fill="#fff" stroke="#fff" font-size="13.2">06-01</text>
<text transform="translate(0 572.9) scale(0.97 1)" x="1135.52 1143.45 1150 1156.55 1164.48" text-anchor="middle" fill="#fff" stroke="#fff" font-size="13.2">07-01</text>
<text transform="translate(0 423.9) scale(0.97 1)" x="74.95 83.04 90.57 98.09" text-anchor="middle" fill="#bbbbbb" stroke="#bbbbbb" font-size="13.2">MACD</text>
<path d="M1224.6 394.9L1230.2 391V388H1263V401.8H1230.2V398.7Z" fill="#555555"/>
<text transform="translate(0 399.7) scale(0.97 1)" x="1275.21 1283.14 1291.08 1299.38" text-anchor="middle" fill="#fff" stroke="#fff" font-size="13.2">306M</text>
</g>
<text transform="translate(67.1 18.1) scale(1.1 1)" fill="#bbbbbb" font-size="13" font-family="'Liberation Sans','Noto Sans CJK SC',sans-serif">银鹰级</text>
<text transform="translate(1223.2 71.3) rotate(-90) scale(0.87 1)" fill="#fff" stroke="#fff" stroke-width="0.2" font-size="15.5" font-family="'Liberation Sans','Noto Sans CJK SC',sans-serif">价格</text>
<text transform="translate(1222.8 19.2) rotate(-90) scale(0.72 1)" text-anchor="end" fill="#fff" stroke="#fff" stroke-width="0.35" font-size="15" font-family="'Liberation Sans','Noto Sans CJK SC',sans-serif">ISK</text>
<path d="M1262.5 0V587" stroke="#555555" stroke-width="1" shape-rendering="crispEdges"/>
</svg>
</body>
</html>
